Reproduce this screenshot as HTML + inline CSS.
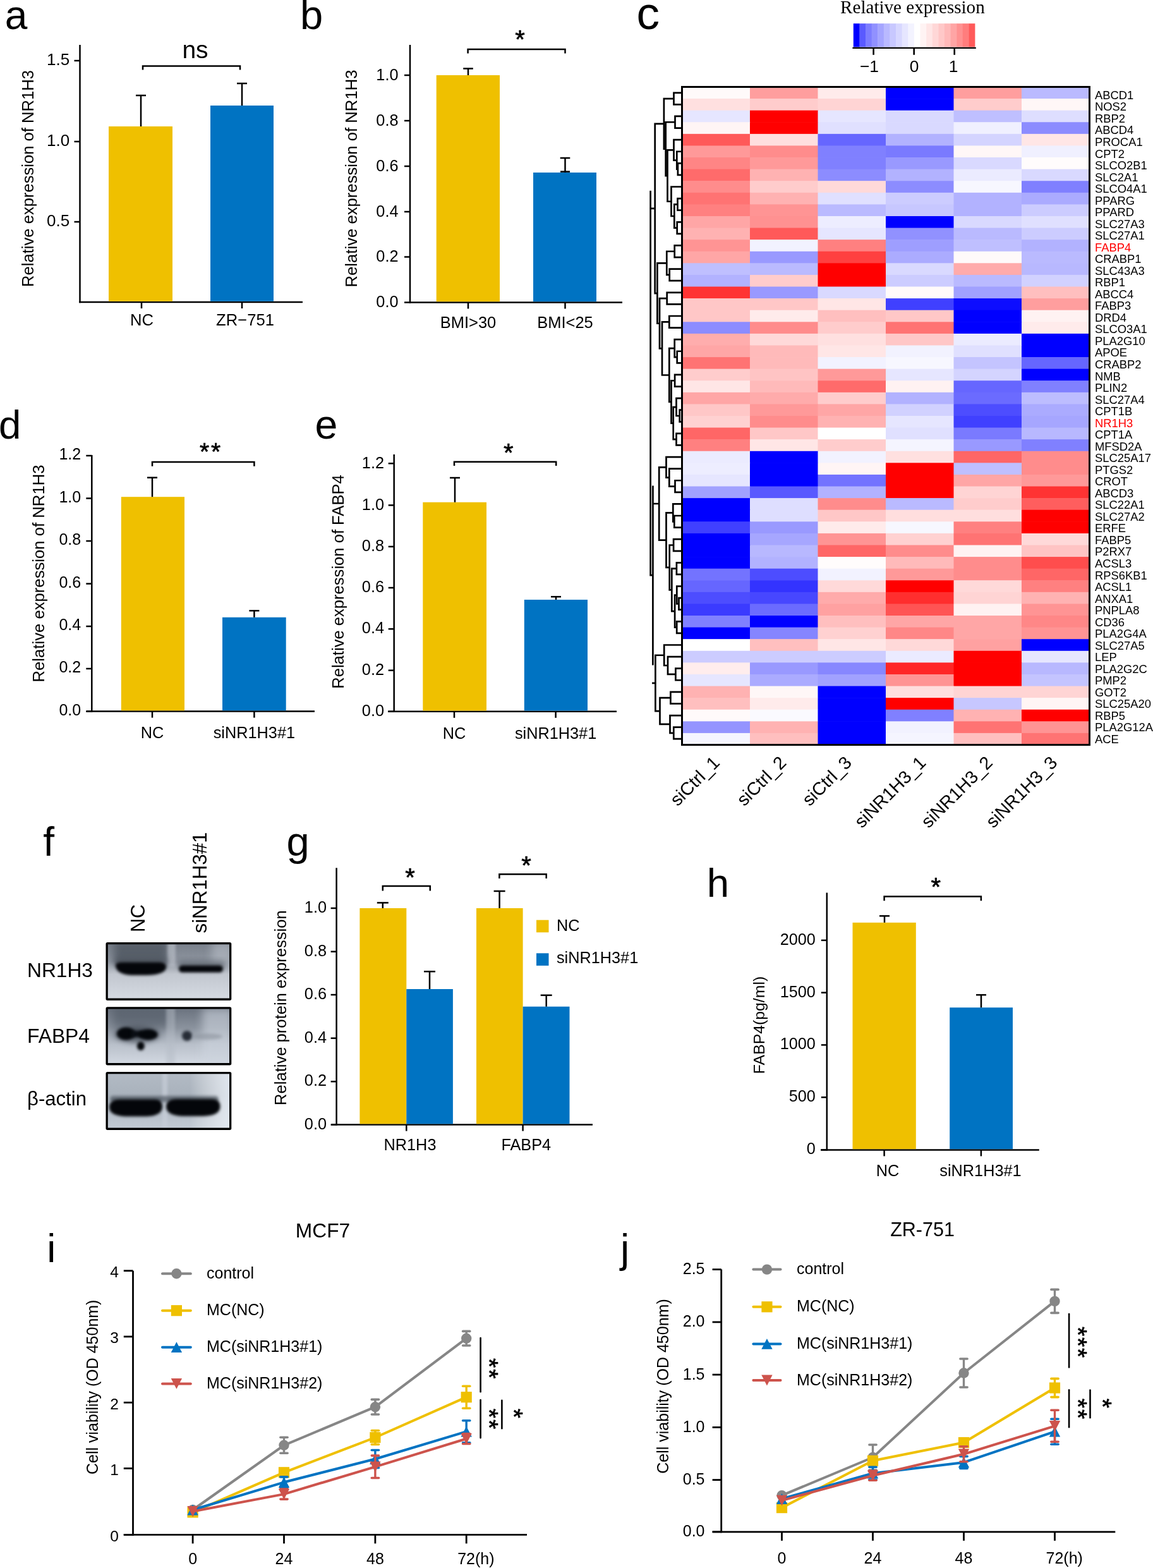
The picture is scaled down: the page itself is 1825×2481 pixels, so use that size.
<!DOCTYPE html>
<html><head><meta charset="utf-8"><title>Figure</title>
<style>html,body{margin:0;padding:0;background:#fff;overflow:hidden;}svg{display:block;}
text{font-family:"Liberation Sans",Arial,Helvetica,sans-serif;}</style></head>
<body><svg width="1825" height="2481" viewBox="0 0 1825 2481">
<rect width="1825" height="2481" fill="#fff"/>
<line x1="126.5" y1="71" x2="126.5" y2="479.25" stroke="#000" stroke-width="2.5" stroke-linecap="butt"/>
<line x1="125.25" y1="478" x2="479" y2="478" stroke="#000" stroke-width="2.5" stroke-linecap="butt"/>
<line x1="117.5" y1="96" x2="126.5" y2="96" stroke="#000" stroke-width="2.5" stroke-linecap="butt"/>
<text x="110.2" y="102.9" font-size="26" text-anchor="end" fill="#000">1.5</text>
<line x1="117.5" y1="224" x2="126.5" y2="224" stroke="#000" stroke-width="2.5" stroke-linecap="butt"/>
<text x="110.2" y="230.9" font-size="26" text-anchor="end" fill="#000">1.0</text>
<line x1="117.5" y1="351" x2="126.5" y2="351" stroke="#000" stroke-width="2.5" stroke-linecap="butt"/>
<text x="110.2" y="357.9" font-size="26" text-anchor="end" fill="#000">0.5</text>
<line x1="224" y1="478" x2="224" y2="488" stroke="#000" stroke-width="2.5" stroke-linecap="butt"/>
<line x1="383" y1="478" x2="383" y2="488" stroke="#000" stroke-width="2.5" stroke-linecap="butt"/>
<rect x="172" y="200" width="101" height="276.75" fill="#EFC000"/>
<rect x="333" y="167" width="100" height="309.75" fill="#0073C2"/>
<line x1="223" y1="151" x2="223" y2="200" stroke="#000" stroke-width="2.5" stroke-linecap="butt"/>
<line x1="215" y1="151" x2="231" y2="151" stroke="#000" stroke-width="2.5" stroke-linecap="butt"/>
<line x1="383" y1="132" x2="383" y2="167" stroke="#000" stroke-width="2.5" stroke-linecap="butt"/>
<line x1="375" y1="132" x2="391" y2="132" stroke="#000" stroke-width="2.5" stroke-linecap="butt"/>
<path d="M226,110.4 V104.4 H380 V110.4" stroke="#000" stroke-width="2.5" fill="none"/>
<text x="309" y="92.3" font-size="39" text-anchor="middle" fill="#000">ns</text>
<text transform="translate(53,282.5) rotate(-90)" font-size="25.6" text-anchor="middle" fill="#000">Relative expression of NR1H3</text>
<text x="224.5" y="514.5" font-size="25.6" text-anchor="middle" fill="#000">NC</text>
<text x="388" y="514.5" font-size="25.6" text-anchor="middle" fill="#000">ZR−751</text>
<line x1="649" y1="71" x2="649" y2="479.75" stroke="#000" stroke-width="2.5" stroke-linecap="butt"/>
<line x1="647.75" y1="478.5" x2="985" y2="478.5" stroke="#000" stroke-width="2.5" stroke-linecap="butt"/>
<line x1="640" y1="478.5" x2="649" y2="478.5" stroke="#000" stroke-width="2.5" stroke-linecap="butt"/>
<text x="630.5" y="486" font-size="25.3" text-anchor="end" fill="#000">0.0</text>
<line x1="640" y1="406.5" x2="649" y2="406.5" stroke="#000" stroke-width="2.5" stroke-linecap="butt"/>
<text x="630.5" y="414" font-size="25.3" text-anchor="end" fill="#000">0.2</text>
<line x1="640" y1="335" x2="649" y2="335" stroke="#000" stroke-width="2.5" stroke-linecap="butt"/>
<text x="630.5" y="342.5" font-size="25.3" text-anchor="end" fill="#000">0.4</text>
<line x1="640" y1="263" x2="649" y2="263" stroke="#000" stroke-width="2.5" stroke-linecap="butt"/>
<text x="630.5" y="270.5" font-size="25.3" text-anchor="end" fill="#000">0.6</text>
<line x1="640" y1="191" x2="649" y2="191" stroke="#000" stroke-width="2.5" stroke-linecap="butt"/>
<text x="630.5" y="198.5" font-size="25.3" text-anchor="end" fill="#000">0.8</text>
<line x1="640" y1="119" x2="649" y2="119" stroke="#000" stroke-width="2.5" stroke-linecap="butt"/>
<text x="630.5" y="126.5" font-size="25.3" text-anchor="end" fill="#000">1.0</text>
<line x1="741" y1="478.5" x2="741" y2="488.5" stroke="#000" stroke-width="2.5" stroke-linecap="butt"/>
<text x="741" y="518.5" font-size="25.5" text-anchor="middle" fill="#000">BMI&gt;30</text>
<line x1="894.5" y1="478.5" x2="894.5" y2="488.5" stroke="#000" stroke-width="2.5" stroke-linecap="butt"/>
<text x="894.5" y="518.5" font-size="25.5" text-anchor="middle" fill="#000">BMI&lt;25</text>
<rect x="690.7" y="119" width="100.3" height="358.25" fill="#EFC000"/>
<rect x="844" y="273" width="100" height="204.25" fill="#0073C2"/>
<line x1="741" y1="108.5" x2="741" y2="119" stroke="#000" stroke-width="2.5" stroke-linecap="butt"/>
<line x1="733.2" y1="108.5" x2="748.8" y2="108.5" stroke="#000" stroke-width="2.5" stroke-linecap="butt"/>
<line x1="894.5" y1="250" x2="894.5" y2="273" stroke="#000" stroke-width="2.5" stroke-linecap="butt"/>
<line x1="886.7" y1="250" x2="902.3" y2="250" stroke="#000" stroke-width="2.5" stroke-linecap="butt"/>
<path d="M740.6,84.5 V78 H894.5 V84.5" stroke="#000" stroke-width="2.5" fill="none"/>
<text transform="translate(823.1,55.3) rotate(0)" x="0" y="20.6" font-size="40" text-anchor="middle" stroke="#000" stroke-width="0.7" stroke-linejoin="round">*</text>
<text transform="translate(565,282.5) rotate(-90)" font-size="25.7" text-anchor="middle" fill="#000">Relative expression of NR1H3</text>
<line x1="887" y1="271.6" x2="902" y2="271.6" stroke="#000" stroke-width="2.5" stroke-linecap="butt"/>
<line x1="145.3" y1="720" x2="145.3" y2="1126.85" stroke="#000" stroke-width="2.5" stroke-linecap="butt"/>
<line x1="136.6" y1="1125.6" x2="498" y2="1125.6" stroke="#000" stroke-width="2.5" stroke-linecap="butt"/>
<line x1="136.3" y1="1125.6" x2="145.3" y2="1125.6" stroke="#000" stroke-width="2.5" stroke-linecap="butt"/>
<text x="128.2" y="1131.9" font-size="25" text-anchor="end" fill="#000">0.0</text>
<line x1="136.3" y1="1058" x2="145.3" y2="1058" stroke="#000" stroke-width="2.5" stroke-linecap="butt"/>
<text x="128.2" y="1064.3" font-size="25" text-anchor="end" fill="#000">0.2</text>
<line x1="136.3" y1="991" x2="145.3" y2="991" stroke="#000" stroke-width="2.5" stroke-linecap="butt"/>
<text x="128.2" y="997.3" font-size="25" text-anchor="end" fill="#000">0.4</text>
<line x1="136.3" y1="923.6" x2="145.3" y2="923.6" stroke="#000" stroke-width="2.5" stroke-linecap="butt"/>
<text x="128.2" y="929.9" font-size="25" text-anchor="end" fill="#000">0.6</text>
<line x1="136.3" y1="856" x2="145.3" y2="856" stroke="#000" stroke-width="2.5" stroke-linecap="butt"/>
<text x="128.2" y="862.3" font-size="25" text-anchor="end" fill="#000">0.8</text>
<line x1="136.3" y1="788.5" x2="145.3" y2="788.5" stroke="#000" stroke-width="2.5" stroke-linecap="butt"/>
<text x="128.2" y="794.8" font-size="25" text-anchor="end" fill="#000">1.0</text>
<line x1="136.3" y1="721" x2="145.3" y2="721" stroke="#000" stroke-width="2.5" stroke-linecap="butt"/>
<text x="128.2" y="727.3" font-size="25" text-anchor="end" fill="#000">1.2</text>
<line x1="241" y1="1125.6" x2="241" y2="1135.6" stroke="#000" stroke-width="2.5" stroke-linecap="butt"/>
<text x="241" y="1167.7" font-size="25.3" text-anchor="middle" fill="#000">NC</text>
<line x1="402.4" y1="1125.6" x2="402.4" y2="1135.6" stroke="#000" stroke-width="2.5" stroke-linecap="butt"/>
<text x="402.4" y="1167.7" font-size="25.3" text-anchor="middle" fill="#000">siNR1H3#1</text>
<rect x="191.8" y="786.2" width="100.2" height="338.15" fill="#EFC000"/>
<rect x="352" y="976.8" width="100.7" height="147.55" fill="#0073C2"/>
<line x1="241" y1="755.7" x2="241" y2="786.2" stroke="#000" stroke-width="2.5" stroke-linecap="butt"/>
<line x1="233" y1="755.7" x2="249" y2="755.7" stroke="#000" stroke-width="2.5" stroke-linecap="butt"/>
<line x1="402.4" y1="966.3" x2="402.4" y2="976.8" stroke="#000" stroke-width="2.5" stroke-linecap="butt"/>
<line x1="394.4" y1="966.3" x2="410.4" y2="966.3" stroke="#000" stroke-width="2.5" stroke-linecap="butt"/>
<path d="M241,737.7 V731 H402.4 V737.7" stroke="#000" stroke-width="2.5" fill="none"/>
<text transform="translate(323.5,708.4) rotate(0)" x="0" y="20.09" font-size="39" text-anchor="middle" stroke="#000" stroke-width="0.7" stroke-linejoin="round">*</text>
<text transform="translate(341.5,708.4) rotate(0)" x="0" y="20.09" font-size="39" text-anchor="middle" stroke="#000" stroke-width="0.7" stroke-linejoin="round">*</text>
<text transform="translate(70,907.5) rotate(-90)" font-size="25.7" text-anchor="middle" fill="#000">Relative expression of NR1H3</text>
<line x1="623.7" y1="719" x2="623.7" y2="1127.05" stroke="#000" stroke-width="2.5" stroke-linecap="butt"/>
<line x1="614" y1="1125.8" x2="976" y2="1125.8" stroke="#000" stroke-width="2.5" stroke-linecap="butt"/>
<line x1="614.7" y1="1125.8" x2="623.7" y2="1125.8" stroke="#000" stroke-width="2.5" stroke-linecap="butt"/>
<text x="608" y="1133" font-size="25.3" text-anchor="end" fill="#000">0.0</text>
<line x1="614.7" y1="1060.7" x2="623.7" y2="1060.7" stroke="#000" stroke-width="2.5" stroke-linecap="butt"/>
<text x="608" y="1067.9" font-size="25.3" text-anchor="end" fill="#000">0.2</text>
<line x1="614.7" y1="995.2" x2="623.7" y2="995.2" stroke="#000" stroke-width="2.5" stroke-linecap="butt"/>
<text x="608" y="1002.4" font-size="25.3" text-anchor="end" fill="#000">0.4</text>
<line x1="614.7" y1="930" x2="623.7" y2="930" stroke="#000" stroke-width="2.5" stroke-linecap="butt"/>
<text x="608" y="937.2" font-size="25.3" text-anchor="end" fill="#000">0.6</text>
<line x1="614.7" y1="864.9" x2="623.7" y2="864.9" stroke="#000" stroke-width="2.5" stroke-linecap="butt"/>
<text x="608" y="872.1" font-size="25.3" text-anchor="end" fill="#000">0.8</text>
<line x1="614.7" y1="799.4" x2="623.7" y2="799.4" stroke="#000" stroke-width="2.5" stroke-linecap="butt"/>
<text x="608" y="806.6" font-size="25.3" text-anchor="end" fill="#000">1.0</text>
<line x1="614.7" y1="733.3" x2="623.7" y2="733.3" stroke="#000" stroke-width="2.5" stroke-linecap="butt"/>
<text x="608" y="740.5" font-size="25.3" text-anchor="end" fill="#000">1.2</text>
<line x1="719" y1="1125.8" x2="719" y2="1135.8" stroke="#000" stroke-width="2.5" stroke-linecap="butt"/>
<text x="719" y="1168.6" font-size="25.3" text-anchor="middle" fill="#000">NC</text>
<line x1="879.6" y1="1125.8" x2="879.6" y2="1135.8" stroke="#000" stroke-width="2.5" stroke-linecap="butt"/>
<text x="879.6" y="1168.6" font-size="25.3" text-anchor="middle" fill="#000">siNR1H3#1</text>
<rect x="669.3" y="794.7" width="100.7" height="329.85" fill="#EFC000"/>
<rect x="829.8" y="948.9" width="100.2" height="175.65" fill="#0073C2"/>
<line x1="720" y1="756" x2="720" y2="794.7" stroke="#000" stroke-width="2.5" stroke-linecap="butt"/>
<line x1="712" y1="756" x2="728" y2="756" stroke="#000" stroke-width="2.5" stroke-linecap="butt"/>
<line x1="880" y1="944.2" x2="880" y2="948.9" stroke="#000" stroke-width="2.5" stroke-linecap="butt"/>
<line x1="872" y1="944.2" x2="888" y2="944.2" stroke="#000" stroke-width="2.5" stroke-linecap="butt"/>
<path d="M719,737 V730.8 H880.2 V737" stroke="#000" stroke-width="2.5" fill="none"/>
<text transform="translate(804.7,709.3) rotate(0)" x="0" y="20.6" font-size="40" text-anchor="middle" stroke="#000" stroke-width="0.7" stroke-linejoin="round">*</text>
<text transform="translate(544,920.5) rotate(-90)" font-size="25.6" text-anchor="middle" fill="#000">Relative expression of FABP4</text>
<line x1="532.6" y1="1373.2" x2="532.6" y2="1780.85" stroke="#000" stroke-width="2.5" stroke-linecap="butt"/>
<line x1="524.3" y1="1779.6" x2="938" y2="1779.6" stroke="#000" stroke-width="2.5" stroke-linecap="butt"/>
<line x1="523.6" y1="1779.6" x2="532.6" y2="1779.6" stroke="#000" stroke-width="2.5" stroke-linecap="butt"/>
<text x="517" y="1786.6" font-size="25.3" text-anchor="end" fill="#000">0.0</text>
<line x1="523.6" y1="1711.3" x2="532.6" y2="1711.3" stroke="#000" stroke-width="2.5" stroke-linecap="butt"/>
<text x="517" y="1718.3" font-size="25.3" text-anchor="end" fill="#000">0.2</text>
<line x1="523.6" y1="1642.7" x2="532.6" y2="1642.7" stroke="#000" stroke-width="2.5" stroke-linecap="butt"/>
<text x="517" y="1649.7" font-size="25.3" text-anchor="end" fill="#000">0.4</text>
<line x1="523.6" y1="1574" x2="532.6" y2="1574" stroke="#000" stroke-width="2.5" stroke-linecap="butt"/>
<text x="517" y="1581" font-size="25.3" text-anchor="end" fill="#000">0.6</text>
<line x1="523.6" y1="1505.7" x2="532.6" y2="1505.7" stroke="#000" stroke-width="2.5" stroke-linecap="butt"/>
<text x="517" y="1512.7" font-size="25.3" text-anchor="end" fill="#000">0.8</text>
<line x1="523.6" y1="1437" x2="532.6" y2="1437" stroke="#000" stroke-width="2.5" stroke-linecap="butt"/>
<text x="517" y="1444" font-size="25.3" text-anchor="end" fill="#000">1.0</text>
<line x1="643.3" y1="1779.6" x2="643.3" y2="1789.6" stroke="#000" stroke-width="2.5" stroke-linecap="butt"/>
<line x1="827.6" y1="1779.6" x2="827.6" y2="1789.6" stroke="#000" stroke-width="2.5" stroke-linecap="butt"/>
<rect x="569.4" y="1437" width="73.9" height="341.35" fill="#EFC000"/>
<rect x="643.3" y="1565" width="73.6" height="213.35" fill="#0073C2"/>
<rect x="754" y="1437" width="73.6" height="341.35" fill="#EFC000"/>
<rect x="827.6" y="1592.7" width="73.9" height="185.65" fill="#0073C2"/>
<line x1="605.8" y1="1428.4" x2="605.8" y2="1437" stroke="#000" stroke-width="2.5" stroke-linecap="butt"/>
<line x1="596.8" y1="1428.4" x2="614.8" y2="1428.4" stroke="#000" stroke-width="2.5" stroke-linecap="butt"/>
<line x1="680" y1="1537.2" x2="680" y2="1565" stroke="#000" stroke-width="2.5" stroke-linecap="butt"/>
<line x1="671" y1="1537.2" x2="689" y2="1537.2" stroke="#000" stroke-width="2.5" stroke-linecap="butt"/>
<line x1="790.6" y1="1410" x2="790.6" y2="1437" stroke="#000" stroke-width="2.5" stroke-linecap="butt"/>
<line x1="781.6" y1="1410" x2="799.6" y2="1410" stroke="#000" stroke-width="2.5" stroke-linecap="butt"/>
<line x1="864.7" y1="1574.7" x2="864.7" y2="1592.7" stroke="#000" stroke-width="2.5" stroke-linecap="butt"/>
<line x1="855.7" y1="1574.7" x2="873.7" y2="1574.7" stroke="#000" stroke-width="2.5" stroke-linecap="butt"/>
<path d="M605.8,1409.6 V1402 H680.8 V1409.6" stroke="#000" stroke-width="2.5" fill="none"/>
<path d="M790.4,1390 V1383.3 H864.7 V1390" stroke="#000" stroke-width="2.5" fill="none"/>
<text transform="translate(649,1381.1) rotate(0)" x="0" y="20.6" font-size="40" text-anchor="middle" stroke="#000" stroke-width="0.7" stroke-linejoin="round">*</text>
<text transform="translate(833,1362.5) rotate(0)" x="0" y="20.6" font-size="40" text-anchor="middle" stroke="#000" stroke-width="0.7" stroke-linejoin="round">*</text>
<text transform="translate(453,1594.6) rotate(-90)" font-size="25.6" text-anchor="middle" fill="#000">Relative protein expression</text>
<text x="649" y="1819.8" font-size="25.3" text-anchor="middle" fill="#000">NR1H3</text>
<text x="832.8" y="1819.8" font-size="25.3" text-anchor="middle" fill="#000">FABP4</text>
<rect x="849" y="1455.7" width="19.5" height="19.6" fill="#EFC000"/>
<rect x="849" y="1508.3" width="19.5" height="19.6" fill="#0073C2"/>
<text x="880.9" y="1472.6" font-size="25.3" text-anchor="start" fill="#000">NC</text>
<text x="880.9" y="1524.4" font-size="25.3" text-anchor="start" fill="#000">siNR1H3#1</text>
<line x1="1308.8" y1="1412.6" x2="1308.8" y2="1820.65" stroke="#000" stroke-width="2.5" stroke-linecap="butt"/>
<line x1="1299" y1="1819.4" x2="1644.8" y2="1819.4" stroke="#000" stroke-width="2.5" stroke-linecap="butt"/>
<line x1="1299.8" y1="1819.4" x2="1308.8" y2="1819.4" stroke="#000" stroke-width="2.5" stroke-linecap="butt"/>
<text x="1290.7" y="1826.4" font-size="25.2" text-anchor="end" fill="#000">0</text>
<line x1="1299.8" y1="1736.2" x2="1308.8" y2="1736.2" stroke="#000" stroke-width="2.5" stroke-linecap="butt"/>
<text x="1290.7" y="1743.2" font-size="25.2" text-anchor="end" fill="#000">500</text>
<line x1="1299.8" y1="1653.4" x2="1308.8" y2="1653.4" stroke="#000" stroke-width="2.5" stroke-linecap="butt"/>
<text x="1290.7" y="1660.4" font-size="25.2" text-anchor="end" fill="#000">1000</text>
<line x1="1299.8" y1="1570.6" x2="1308.8" y2="1570.6" stroke="#000" stroke-width="2.5" stroke-linecap="butt"/>
<text x="1290.7" y="1577.6" font-size="25.2" text-anchor="end" fill="#000">1500</text>
<line x1="1299.8" y1="1487.8" x2="1308.8" y2="1487.8" stroke="#000" stroke-width="2.5" stroke-linecap="butt"/>
<text x="1290.7" y="1494.8" font-size="25.2" text-anchor="end" fill="#000">2000</text>
<line x1="1399.6" y1="1819.4" x2="1399.6" y2="1829.4" stroke="#000" stroke-width="2.5" stroke-linecap="butt"/>
<line x1="1552.9" y1="1819.4" x2="1552.9" y2="1829.4" stroke="#000" stroke-width="2.5" stroke-linecap="butt"/>
<rect x="1349.5" y="1459.8" width="100.3" height="358.35" fill="#EFC000"/>
<rect x="1503.2" y="1594.2" width="99.8" height="223.95" fill="#0073C2"/>
<line x1="1400" y1="1449.3" x2="1400" y2="1459.8" stroke="#000" stroke-width="2.5" stroke-linecap="butt"/>
<line x1="1392" y1="1449.3" x2="1408" y2="1449.3" stroke="#000" stroke-width="2.5" stroke-linecap="butt"/>
<line x1="1553" y1="1574.2" x2="1553" y2="1594.2" stroke="#000" stroke-width="2.5" stroke-linecap="butt"/>
<line x1="1545" y1="1574.2" x2="1561" y2="1574.2" stroke="#000" stroke-width="2.5" stroke-linecap="butt"/>
<path d="M1399.6,1425.3 V1418.4 H1552.9 V1425.3" stroke="#000" stroke-width="2.5" fill="none"/>
<text transform="translate(1481.4,1396.5) rotate(0)" x="0" y="20.6" font-size="40" text-anchor="middle" stroke="#000" stroke-width="0.7" stroke-linejoin="round">*</text>
<text transform="translate(1210,1622) rotate(-90)" font-size="24.8" text-anchor="middle" fill="#000">FABP4(pg/ml)</text>
<text x="1405" y="1861" font-size="25.3" text-anchor="middle" fill="#000">NC</text>
<text x="1552" y="1861" font-size="25.3" text-anchor="middle" fill="#000">siNR1H3#1</text>
<rect x="1079.5" y="137.5" width="108.1" height="19.19" fill="#fffafa"/>
<rect x="1187" y="137.5" width="108.1" height="19.19" fill="#ff9e9e"/>
<rect x="1294.5" y="137.5" width="108.1" height="19.19" fill="#ffebeb"/>
<rect x="1402" y="137.5" width="108.1" height="19.19" fill="#0000ff"/>
<rect x="1509.5" y="137.5" width="108.1" height="19.19" fill="#ff9e9e"/>
<rect x="1617" y="137.5" width="108.1" height="19.19" fill="#babaff"/>
<rect x="1079.5" y="156.09" width="108.1" height="19.19" fill="#ffe0e0"/>
<rect x="1187" y="156.09" width="108.1" height="19.19" fill="#ffcccc"/>
<rect x="1294.5" y="156.09" width="108.1" height="19.19" fill="#ffd4d4"/>
<rect x="1402" y="156.09" width="108.1" height="19.19" fill="#0000ff"/>
<rect x="1509.5" y="156.09" width="108.1" height="19.19" fill="#ffcccc"/>
<rect x="1617" y="156.09" width="108.1" height="19.19" fill="#fff7f7"/>
<rect x="1079.5" y="174.68" width="108.1" height="19.19" fill="#e6e6ff"/>
<rect x="1187" y="174.68" width="108.1" height="19.19" fill="#ff0000"/>
<rect x="1294.5" y="174.68" width="108.1" height="19.19" fill="#e6e6ff"/>
<rect x="1402" y="174.68" width="108.1" height="19.19" fill="#d9d9ff"/>
<rect x="1509.5" y="174.68" width="108.1" height="19.19" fill="#bfbfff"/>
<rect x="1617" y="174.68" width="108.1" height="19.19" fill="#dedeff"/>
<rect x="1079.5" y="193.27" width="108.1" height="19.19" fill="#fff5f5"/>
<rect x="1187" y="193.27" width="108.1" height="19.19" fill="#ff0000"/>
<rect x="1294.5" y="193.27" width="108.1" height="19.19" fill="#e0e0ff"/>
<rect x="1402" y="193.27" width="108.1" height="19.19" fill="#d9d9ff"/>
<rect x="1509.5" y="193.27" width="108.1" height="19.19" fill="#f0f0ff"/>
<rect x="1617" y="193.27" width="108.1" height="19.19" fill="#8c8cff"/>
<rect x="1079.5" y="211.86" width="108.1" height="19.19" fill="#ff5959"/>
<rect x="1187" y="211.86" width="108.1" height="19.19" fill="#ffdede"/>
<rect x="1294.5" y="211.86" width="108.1" height="19.19" fill="#6666ff"/>
<rect x="1402" y="211.86" width="108.1" height="19.19" fill="#b2b2ff"/>
<rect x="1509.5" y="211.86" width="108.1" height="19.19" fill="#d4d4ff"/>
<rect x="1617" y="211.86" width="108.1" height="19.19" fill="#ffe6e6"/>
<rect x="1079.5" y="230.45" width="108.1" height="19.19" fill="#ff9999"/>
<rect x="1187" y="230.45" width="108.1" height="19.19" fill="#ff8c8c"/>
<rect x="1294.5" y="230.45" width="108.1" height="19.19" fill="#8080ff"/>
<rect x="1402" y="230.45" width="108.1" height="19.19" fill="#7a7aff"/>
<rect x="1509.5" y="230.45" width="108.1" height="19.19" fill="#fff7f7"/>
<rect x="1617" y="230.45" width="108.1" height="19.19" fill="#f0f0ff"/>
<rect x="1079.5" y="249.04" width="108.1" height="19.19" fill="#ff8585"/>
<rect x="1187" y="249.04" width="108.1" height="19.19" fill="#ff9999"/>
<rect x="1294.5" y="249.04" width="108.1" height="19.19" fill="#8080ff"/>
<rect x="1402" y="249.04" width="108.1" height="19.19" fill="#9999ff"/>
<rect x="1509.5" y="249.04" width="108.1" height="19.19" fill="#d9d9ff"/>
<rect x="1617" y="249.04" width="108.1" height="19.19" fill="#fffcfc"/>
<rect x="1079.5" y="267.62" width="108.1" height="19.19" fill="#ff6b6b"/>
<rect x="1187" y="267.62" width="108.1" height="19.19" fill="#ffb2b2"/>
<rect x="1294.5" y="267.62" width="108.1" height="19.19" fill="#8c8cff"/>
<rect x="1402" y="267.62" width="108.1" height="19.19" fill="#b2b2ff"/>
<rect x="1509.5" y="267.62" width="108.1" height="19.19" fill="#ebebff"/>
<rect x="1617" y="267.62" width="108.1" height="19.19" fill="#d9d9ff"/>
<rect x="1079.5" y="286.21" width="108.1" height="19.19" fill="#ff8c8c"/>
<rect x="1187" y="286.21" width="108.1" height="19.19" fill="#ffcccc"/>
<rect x="1294.5" y="286.21" width="108.1" height="19.19" fill="#ffd9d9"/>
<rect x="1402" y="286.21" width="108.1" height="19.19" fill="#8c8cff"/>
<rect x="1509.5" y="286.21" width="108.1" height="19.19" fill="#f7f7ff"/>
<rect x="1617" y="286.21" width="108.1" height="19.19" fill="#8080ff"/>
<rect x="1079.5" y="304.8" width="108.1" height="19.19" fill="#ff7373"/>
<rect x="1187" y="304.8" width="108.1" height="19.19" fill="#ffb2b2"/>
<rect x="1294.5" y="304.8" width="108.1" height="19.19" fill="#e0e0ff"/>
<rect x="1402" y="304.8" width="108.1" height="19.19" fill="#ccccff"/>
<rect x="1509.5" y="304.8" width="108.1" height="19.19" fill="#b2b2ff"/>
<rect x="1617" y="304.8" width="108.1" height="19.19" fill="#ababff"/>
<rect x="1079.5" y="323.39" width="108.1" height="19.19" fill="#ff8080"/>
<rect x="1187" y="323.39" width="108.1" height="19.19" fill="#ff9494"/>
<rect x="1294.5" y="323.39" width="108.1" height="19.19" fill="#babaff"/>
<rect x="1402" y="323.39" width="108.1" height="19.19" fill="#c7c7ff"/>
<rect x="1509.5" y="323.39" width="108.1" height="19.19" fill="#b2b2ff"/>
<rect x="1617" y="323.39" width="108.1" height="19.19" fill="#ccccff"/>
<rect x="1079.5" y="341.98" width="108.1" height="19.19" fill="#ffa6a6"/>
<rect x="1187" y="341.98" width="108.1" height="19.19" fill="#ff9191"/>
<rect x="1294.5" y="341.98" width="108.1" height="19.19" fill="#ededff"/>
<rect x="1402" y="341.98" width="108.1" height="19.19" fill="#0000ff"/>
<rect x="1509.5" y="341.98" width="108.1" height="19.19" fill="#d9d9ff"/>
<rect x="1617" y="341.98" width="108.1" height="19.19" fill="#e0e0ff"/>
<rect x="1079.5" y="360.57" width="108.1" height="19.19" fill="#ffb2b2"/>
<rect x="1187" y="360.57" width="108.1" height="19.19" fill="#ff5959"/>
<rect x="1294.5" y="360.57" width="108.1" height="19.19" fill="#e6e6ff"/>
<rect x="1402" y="360.57" width="108.1" height="19.19" fill="#9191ff"/>
<rect x="1509.5" y="360.57" width="108.1" height="19.19" fill="#babaff"/>
<rect x="1617" y="360.57" width="108.1" height="19.19" fill="#ccccff"/>
<rect x="1079.5" y="379.16" width="108.1" height="19.19" fill="#ff9494"/>
<rect x="1187" y="379.16" width="108.1" height="19.19" fill="#f2f2ff"/>
<rect x="1294.5" y="379.16" width="108.1" height="19.19" fill="#ff8080"/>
<rect x="1402" y="379.16" width="108.1" height="19.19" fill="#9e9eff"/>
<rect x="1509.5" y="379.16" width="108.1" height="19.19" fill="#bfbfff"/>
<rect x="1617" y="379.16" width="108.1" height="19.19" fill="#b2b2ff"/>
<rect x="1079.5" y="397.75" width="108.1" height="19.19" fill="#ffa6a6"/>
<rect x="1187" y="397.75" width="108.1" height="19.19" fill="#9999ff"/>
<rect x="1294.5" y="397.75" width="108.1" height="19.19" fill="#ff4040"/>
<rect x="1402" y="397.75" width="108.1" height="19.19" fill="#ababff"/>
<rect x="1509.5" y="397.75" width="108.1" height="19.19" fill="#fffafa"/>
<rect x="1617" y="397.75" width="108.1" height="19.19" fill="#babaff"/>
<rect x="1079.5" y="416.34" width="108.1" height="19.19" fill="#bfbfff"/>
<rect x="1187" y="416.34" width="108.1" height="19.19" fill="#babaff"/>
<rect x="1294.5" y="416.34" width="108.1" height="19.19" fill="#ff0000"/>
<rect x="1402" y="416.34" width="108.1" height="19.19" fill="#d9d9ff"/>
<rect x="1509.5" y="416.34" width="108.1" height="19.19" fill="#ffabab"/>
<rect x="1617" y="416.34" width="108.1" height="19.19" fill="#b8b8ff"/>
<rect x="1079.5" y="434.93" width="108.1" height="19.19" fill="#b2b2ff"/>
<rect x="1187" y="434.93" width="108.1" height="19.19" fill="#ffcccc"/>
<rect x="1294.5" y="434.93" width="108.1" height="19.19" fill="#ff0000"/>
<rect x="1402" y="434.93" width="108.1" height="19.19" fill="#ccccff"/>
<rect x="1509.5" y="434.93" width="108.1" height="19.19" fill="#babaff"/>
<rect x="1617" y="434.93" width="108.1" height="19.19" fill="#d1d1ff"/>
<rect x="1079.5" y="453.52" width="108.1" height="19.19" fill="#ff3333"/>
<rect x="1187" y="453.52" width="108.1" height="19.19" fill="#9999ff"/>
<rect x="1294.5" y="453.52" width="108.1" height="19.19" fill="#d9d9ff"/>
<rect x="1402" y="453.52" width="108.1" height="19.19" fill="#fffafa"/>
<rect x="1509.5" y="453.52" width="108.1" height="19.19" fill="#a1a1ff"/>
<rect x="1617" y="453.52" width="108.1" height="19.19" fill="#ffbfbf"/>
<rect x="1079.5" y="472.11" width="108.1" height="19.19" fill="#ffc7c7"/>
<rect x="1187" y="472.11" width="108.1" height="19.19" fill="#ffc7c7"/>
<rect x="1294.5" y="472.11" width="108.1" height="19.19" fill="#ffe6e6"/>
<rect x="1402" y="472.11" width="108.1" height="19.19" fill="#4040ff"/>
<rect x="1509.5" y="472.11" width="108.1" height="19.19" fill="#0d0dff"/>
<rect x="1617" y="472.11" width="108.1" height="19.19" fill="#ff9e9e"/>
<rect x="1079.5" y="490.7" width="108.1" height="19.19" fill="#ffc7c7"/>
<rect x="1187" y="490.7" width="108.1" height="19.19" fill="#ffebeb"/>
<rect x="1294.5" y="490.7" width="108.1" height="19.19" fill="#ffbfbf"/>
<rect x="1402" y="490.7" width="108.1" height="19.19" fill="#ffc7c7"/>
<rect x="1509.5" y="490.7" width="108.1" height="19.19" fill="#0000ff"/>
<rect x="1617" y="490.7" width="108.1" height="19.19" fill="#fff2f2"/>
<rect x="1079.5" y="509.29" width="108.1" height="19.19" fill="#8c8cff"/>
<rect x="1187" y="509.29" width="108.1" height="19.19" fill="#ff8c8c"/>
<rect x="1294.5" y="509.29" width="108.1" height="19.19" fill="#ffcccc"/>
<rect x="1402" y="509.29" width="108.1" height="19.19" fill="#ff7373"/>
<rect x="1509.5" y="509.29" width="108.1" height="19.19" fill="#0000ff"/>
<rect x="1617" y="509.29" width="108.1" height="19.19" fill="#ffebeb"/>
<rect x="1079.5" y="527.88" width="108.1" height="19.19" fill="#ffadad"/>
<rect x="1187" y="527.88" width="108.1" height="19.19" fill="#ffd9d9"/>
<rect x="1294.5" y="527.88" width="108.1" height="19.19" fill="#ffe0e0"/>
<rect x="1402" y="527.88" width="108.1" height="19.19" fill="#ffc7c7"/>
<rect x="1509.5" y="527.88" width="108.1" height="19.19" fill="#ebebff"/>
<rect x="1617" y="527.88" width="108.1" height="19.19" fill="#0000ff"/>
<rect x="1079.5" y="546.46" width="108.1" height="19.19" fill="#ffa6a6"/>
<rect x="1187" y="546.46" width="108.1" height="19.19" fill="#ffbaba"/>
<rect x="1294.5" y="546.46" width="108.1" height="19.19" fill="#ffe6e6"/>
<rect x="1402" y="546.46" width="108.1" height="19.19" fill="#f2f2ff"/>
<rect x="1509.5" y="546.46" width="108.1" height="19.19" fill="#e0e0ff"/>
<rect x="1617" y="546.46" width="108.1" height="19.19" fill="#0000ff"/>
<rect x="1079.5" y="565.05" width="108.1" height="19.19" fill="#ff7373"/>
<rect x="1187" y="565.05" width="108.1" height="19.19" fill="#ffbaba"/>
<rect x="1294.5" y="565.05" width="108.1" height="19.19" fill="#f2f2ff"/>
<rect x="1402" y="565.05" width="108.1" height="19.19" fill="#f7f7ff"/>
<rect x="1509.5" y="565.05" width="108.1" height="19.19" fill="#c4c4ff"/>
<rect x="1617" y="565.05" width="108.1" height="19.19" fill="#6666ff"/>
<rect x="1079.5" y="583.64" width="108.1" height="19.19" fill="#ffcccc"/>
<rect x="1187" y="583.64" width="108.1" height="19.19" fill="#ffc4c4"/>
<rect x="1294.5" y="583.64" width="108.1" height="19.19" fill="#ff9999"/>
<rect x="1402" y="583.64" width="108.1" height="19.19" fill="#e6e6ff"/>
<rect x="1509.5" y="583.64" width="108.1" height="19.19" fill="#d4d4ff"/>
<rect x="1617" y="583.64" width="108.1" height="19.19" fill="#0000ff"/>
<rect x="1079.5" y="602.23" width="108.1" height="19.19" fill="#ffe6e6"/>
<rect x="1187" y="602.23" width="108.1" height="19.19" fill="#ffbaba"/>
<rect x="1294.5" y="602.23" width="108.1" height="19.19" fill="#ff6b6b"/>
<rect x="1402" y="602.23" width="108.1" height="19.19" fill="#fff2f2"/>
<rect x="1509.5" y="602.23" width="108.1" height="19.19" fill="#6666ff"/>
<rect x="1617" y="602.23" width="108.1" height="19.19" fill="#8080ff"/>
<rect x="1079.5" y="620.82" width="108.1" height="19.19" fill="#ffa6a6"/>
<rect x="1187" y="620.82" width="108.1" height="19.19" fill="#ffabab"/>
<rect x="1294.5" y="620.82" width="108.1" height="19.19" fill="#ffcccc"/>
<rect x="1402" y="620.82" width="108.1" height="19.19" fill="#b2b2ff"/>
<rect x="1509.5" y="620.82" width="108.1" height="19.19" fill="#6b6bff"/>
<rect x="1617" y="620.82" width="108.1" height="19.19" fill="#bdbdff"/>
<rect x="1079.5" y="639.41" width="108.1" height="19.19" fill="#ffc7c7"/>
<rect x="1187" y="639.41" width="108.1" height="19.19" fill="#ff9999"/>
<rect x="1294.5" y="639.41" width="108.1" height="19.19" fill="#ffa6a6"/>
<rect x="1402" y="639.41" width="108.1" height="19.19" fill="#d1d1ff"/>
<rect x="1509.5" y="639.41" width="108.1" height="19.19" fill="#4d4dff"/>
<rect x="1617" y="639.41" width="108.1" height="19.19" fill="#ababff"/>
<rect x="1079.5" y="658" width="108.1" height="19.19" fill="#ffd1d1"/>
<rect x="1187" y="658" width="108.1" height="19.19" fill="#ff8c8c"/>
<rect x="1294.5" y="658" width="108.1" height="19.19" fill="#ffb2b2"/>
<rect x="1402" y="658" width="108.1" height="19.19" fill="#e6e6ff"/>
<rect x="1509.5" y="658" width="108.1" height="19.19" fill="#4040ff"/>
<rect x="1617" y="658" width="108.1" height="19.19" fill="#a6a6ff"/>
<rect x="1079.5" y="676.59" width="108.1" height="19.19" fill="#ff6666"/>
<rect x="1187" y="676.59" width="108.1" height="19.19" fill="#ffc7c7"/>
<rect x="1294.5" y="676.59" width="108.1" height="19.19" fill="#ffffff"/>
<rect x="1402" y="676.59" width="108.1" height="19.19" fill="#e0e0ff"/>
<rect x="1509.5" y="676.59" width="108.1" height="19.19" fill="#7a7aff"/>
<rect x="1617" y="676.59" width="108.1" height="19.19" fill="#b8b8ff"/>
<rect x="1079.5" y="695.18" width="108.1" height="19.19" fill="#ff8080"/>
<rect x="1187" y="695.18" width="108.1" height="19.19" fill="#ffe6e6"/>
<rect x="1294.5" y="695.18" width="108.1" height="19.19" fill="#ffcccc"/>
<rect x="1402" y="695.18" width="108.1" height="19.19" fill="#f5f5ff"/>
<rect x="1509.5" y="695.18" width="108.1" height="19.19" fill="#9999ff"/>
<rect x="1617" y="695.18" width="108.1" height="19.19" fill="#8080ff"/>
<rect x="1079.5" y="713.77" width="108.1" height="19.19" fill="#ebebff"/>
<rect x="1187" y="713.77" width="108.1" height="19.19" fill="#0000ff"/>
<rect x="1294.5" y="713.77" width="108.1" height="19.19" fill="#f2f2ff"/>
<rect x="1402" y="713.77" width="108.1" height="19.19" fill="#ffe0e0"/>
<rect x="1509.5" y="713.77" width="108.1" height="19.19" fill="#ff6666"/>
<rect x="1617" y="713.77" width="108.1" height="19.19" fill="#ff8c8c"/>
<rect x="1079.5" y="732.36" width="108.1" height="19.19" fill="#ededff"/>
<rect x="1187" y="732.36" width="108.1" height="19.19" fill="#0000ff"/>
<rect x="1294.5" y="732.36" width="108.1" height="19.19" fill="#fff5f5"/>
<rect x="1402" y="732.36" width="108.1" height="19.19" fill="#ff0000"/>
<rect x="1509.5" y="732.36" width="108.1" height="19.19" fill="#bfbfff"/>
<rect x="1617" y="732.36" width="108.1" height="19.19" fill="#ff8c8c"/>
<rect x="1079.5" y="750.95" width="108.1" height="19.19" fill="#e6e6ff"/>
<rect x="1187" y="750.95" width="108.1" height="19.19" fill="#0000ff"/>
<rect x="1294.5" y="750.95" width="108.1" height="19.19" fill="#7373ff"/>
<rect x="1402" y="750.95" width="108.1" height="19.19" fill="#ff0000"/>
<rect x="1509.5" y="750.95" width="108.1" height="19.19" fill="#ffa6a6"/>
<rect x="1617" y="750.95" width="108.1" height="19.19" fill="#ff9999"/>
<rect x="1079.5" y="769.54" width="108.1" height="19.19" fill="#a1a1ff"/>
<rect x="1187" y="769.54" width="108.1" height="19.19" fill="#5959ff"/>
<rect x="1294.5" y="769.54" width="108.1" height="19.19" fill="#b2b2ff"/>
<rect x="1402" y="769.54" width="108.1" height="19.19" fill="#ff0000"/>
<rect x="1509.5" y="769.54" width="108.1" height="19.19" fill="#ffd4d4"/>
<rect x="1617" y="769.54" width="108.1" height="19.19" fill="#ff3333"/>
<rect x="1079.5" y="788.12" width="108.1" height="19.19" fill="#0000ff"/>
<rect x="1187" y="788.12" width="108.1" height="19.19" fill="#dedeff"/>
<rect x="1294.5" y="788.12" width="108.1" height="19.19" fill="#ff8c8c"/>
<rect x="1402" y="788.12" width="108.1" height="19.19" fill="#babaff"/>
<rect x="1509.5" y="788.12" width="108.1" height="19.19" fill="#ffcccc"/>
<rect x="1617" y="788.12" width="108.1" height="19.19" fill="#ff5e5e"/>
<rect x="1079.5" y="806.71" width="108.1" height="19.19" fill="#0000ff"/>
<rect x="1187" y="806.71" width="108.1" height="19.19" fill="#dedeff"/>
<rect x="1294.5" y="806.71" width="108.1" height="19.19" fill="#ffc7c7"/>
<rect x="1402" y="806.71" width="108.1" height="19.19" fill="#ffdede"/>
<rect x="1509.5" y="806.71" width="108.1" height="19.19" fill="#ffdede"/>
<rect x="1617" y="806.71" width="108.1" height="19.19" fill="#ff0000"/>
<rect x="1079.5" y="825.3" width="108.1" height="19.19" fill="#4040ff"/>
<rect x="1187" y="825.3" width="108.1" height="19.19" fill="#9999ff"/>
<rect x="1294.5" y="825.3" width="108.1" height="19.19" fill="#ffebeb"/>
<rect x="1402" y="825.3" width="108.1" height="19.19" fill="#f7f7ff"/>
<rect x="1509.5" y="825.3" width="108.1" height="19.19" fill="#ff8080"/>
<rect x="1617" y="825.3" width="108.1" height="19.19" fill="#ff0000"/>
<rect x="1079.5" y="843.89" width="108.1" height="19.19" fill="#0000ff"/>
<rect x="1187" y="843.89" width="108.1" height="19.19" fill="#a6a6ff"/>
<rect x="1294.5" y="843.89" width="108.1" height="19.19" fill="#ff9494"/>
<rect x="1402" y="843.89" width="108.1" height="19.19" fill="#ffd1d1"/>
<rect x="1509.5" y="843.89" width="108.1" height="19.19" fill="#ff7373"/>
<rect x="1617" y="843.89" width="108.1" height="19.19" fill="#ffd9d9"/>
<rect x="1079.5" y="862.48" width="108.1" height="19.19" fill="#0000ff"/>
<rect x="1187" y="862.48" width="108.1" height="19.19" fill="#b8b8ff"/>
<rect x="1294.5" y="862.48" width="108.1" height="19.19" fill="#ff6666"/>
<rect x="1402" y="862.48" width="108.1" height="19.19" fill="#ff8c8c"/>
<rect x="1509.5" y="862.48" width="108.1" height="19.19" fill="#fff2f2"/>
<rect x="1617" y="862.48" width="108.1" height="19.19" fill="#ffc4c4"/>
<rect x="1079.5" y="881.07" width="108.1" height="19.19" fill="#0000ff"/>
<rect x="1187" y="881.07" width="108.1" height="19.19" fill="#b2b2ff"/>
<rect x="1294.5" y="881.07" width="108.1" height="19.19" fill="#fffcfc"/>
<rect x="1402" y="881.07" width="108.1" height="19.19" fill="#ffbaba"/>
<rect x="1509.5" y="881.07" width="108.1" height="19.19" fill="#ff8c8c"/>
<rect x="1617" y="881.07" width="108.1" height="19.19" fill="#ff4d4d"/>
<rect x="1079.5" y="899.66" width="108.1" height="19.19" fill="#7373ff"/>
<rect x="1187" y="899.66" width="108.1" height="19.19" fill="#4d4dff"/>
<rect x="1294.5" y="899.66" width="108.1" height="19.19" fill="#f2f2ff"/>
<rect x="1402" y="899.66" width="108.1" height="19.19" fill="#ff9999"/>
<rect x="1509.5" y="899.66" width="108.1" height="19.19" fill="#ff8c8c"/>
<rect x="1617" y="899.66" width="108.1" height="19.19" fill="#ff6666"/>
<rect x="1079.5" y="918.25" width="108.1" height="19.19" fill="#6666ff"/>
<rect x="1187" y="918.25" width="108.1" height="19.19" fill="#3333ff"/>
<rect x="1294.5" y="918.25" width="108.1" height="19.19" fill="#ffd9d9"/>
<rect x="1402" y="918.25" width="108.1" height="19.19" fill="#ff0000"/>
<rect x="1509.5" y="918.25" width="108.1" height="19.19" fill="#ffd9d9"/>
<rect x="1617" y="918.25" width="108.1" height="19.19" fill="#ff8080"/>
<rect x="1079.5" y="936.84" width="108.1" height="19.19" fill="#4d4dff"/>
<rect x="1187" y="936.84" width="108.1" height="19.19" fill="#4747ff"/>
<rect x="1294.5" y="936.84" width="108.1" height="19.19" fill="#ffabab"/>
<rect x="1402" y="936.84" width="108.1" height="19.19" fill="#ff2e2e"/>
<rect x="1509.5" y="936.84" width="108.1" height="19.19" fill="#ffd4d4"/>
<rect x="1617" y="936.84" width="108.1" height="19.19" fill="#ffb2b2"/>
<rect x="1079.5" y="955.43" width="108.1" height="19.19" fill="#3b3bff"/>
<rect x="1187" y="955.43" width="108.1" height="19.19" fill="#6b6bff"/>
<rect x="1294.5" y="955.43" width="108.1" height="19.19" fill="#ffa1a1"/>
<rect x="1402" y="955.43" width="108.1" height="19.19" fill="#ff5454"/>
<rect x="1509.5" y="955.43" width="108.1" height="19.19" fill="#fff2f2"/>
<rect x="1617" y="955.43" width="108.1" height="19.19" fill="#ff9494"/>
<rect x="1079.5" y="974.02" width="108.1" height="19.19" fill="#8080ff"/>
<rect x="1187" y="974.02" width="108.1" height="19.19" fill="#0000ff"/>
<rect x="1294.5" y="974.02" width="108.1" height="19.19" fill="#ffbfbf"/>
<rect x="1402" y="974.02" width="108.1" height="19.19" fill="#ffa6a6"/>
<rect x="1509.5" y="974.02" width="108.1" height="19.19" fill="#ffa6a6"/>
<rect x="1617" y="974.02" width="108.1" height="19.19" fill="#ff8787"/>
<rect x="1079.5" y="992.61" width="108.1" height="19.19" fill="#0000ff"/>
<rect x="1187" y="992.61" width="108.1" height="19.19" fill="#8585ff"/>
<rect x="1294.5" y="992.61" width="108.1" height="19.19" fill="#ffd1d1"/>
<rect x="1402" y="992.61" width="108.1" height="19.19" fill="#ff8787"/>
<rect x="1509.5" y="992.61" width="108.1" height="19.19" fill="#ffa6a6"/>
<rect x="1617" y="992.61" width="108.1" height="19.19" fill="#ff9494"/>
<rect x="1079.5" y="1011.2" width="108.1" height="19.19" fill="#ffffff"/>
<rect x="1187" y="1011.2" width="108.1" height="19.19" fill="#ffbfbf"/>
<rect x="1294.5" y="1011.2" width="108.1" height="19.19" fill="#ffe6e6"/>
<rect x="1402" y="1011.2" width="108.1" height="19.19" fill="#ffd9d9"/>
<rect x="1509.5" y="1011.2" width="108.1" height="19.19" fill="#ffa1a1"/>
<rect x="1617" y="1011.2" width="108.1" height="19.19" fill="#0000ff"/>
<rect x="1079.5" y="1029.79" width="108.1" height="19.19" fill="#ccccff"/>
<rect x="1187" y="1029.79" width="108.1" height="19.19" fill="#ccccff"/>
<rect x="1294.5" y="1029.79" width="108.1" height="19.19" fill="#ccccff"/>
<rect x="1402" y="1029.79" width="108.1" height="19.19" fill="#ebebff"/>
<rect x="1509.5" y="1029.79" width="108.1" height="19.19" fill="#ff0000"/>
<rect x="1617" y="1029.79" width="108.1" height="19.19" fill="#e6e6ff"/>
<rect x="1079.5" y="1048.38" width="108.1" height="19.19" fill="#ffeded"/>
<rect x="1187" y="1048.38" width="108.1" height="19.19" fill="#9999ff"/>
<rect x="1294.5" y="1048.38" width="108.1" height="19.19" fill="#8787ff"/>
<rect x="1402" y="1048.38" width="108.1" height="19.19" fill="#ff2626"/>
<rect x="1509.5" y="1048.38" width="108.1" height="19.19" fill="#ff0000"/>
<rect x="1617" y="1048.38" width="108.1" height="19.19" fill="#b8b8ff"/>
<rect x="1079.5" y="1066.96" width="108.1" height="19.19" fill="#e6e6ff"/>
<rect x="1187" y="1066.96" width="108.1" height="19.19" fill="#ababff"/>
<rect x="1294.5" y="1066.96" width="108.1" height="19.19" fill="#a1a1ff"/>
<rect x="1402" y="1066.96" width="108.1" height="19.19" fill="#ff9494"/>
<rect x="1509.5" y="1066.96" width="108.1" height="19.19" fill="#ff0000"/>
<rect x="1617" y="1066.96" width="108.1" height="19.19" fill="#c4c4ff"/>
<rect x="1079.5" y="1085.55" width="108.1" height="19.19" fill="#ffb2b2"/>
<rect x="1187" y="1085.55" width="108.1" height="19.19" fill="#fff7f7"/>
<rect x="1294.5" y="1085.55" width="108.1" height="19.19" fill="#0000ff"/>
<rect x="1402" y="1085.55" width="108.1" height="19.19" fill="#ffdede"/>
<rect x="1509.5" y="1085.55" width="108.1" height="19.19" fill="#ffd4d4"/>
<rect x="1617" y="1085.55" width="108.1" height="19.19" fill="#ffd4d4"/>
<rect x="1079.5" y="1104.14" width="108.1" height="19.19" fill="#ffbfbf"/>
<rect x="1187" y="1104.14" width="108.1" height="19.19" fill="#ffebeb"/>
<rect x="1294.5" y="1104.14" width="108.1" height="19.19" fill="#0000ff"/>
<rect x="1402" y="1104.14" width="108.1" height="19.19" fill="#ff0000"/>
<rect x="1509.5" y="1104.14" width="108.1" height="19.19" fill="#c7c7ff"/>
<rect x="1617" y="1104.14" width="108.1" height="19.19" fill="#fff5f5"/>
<rect x="1079.5" y="1122.73" width="108.1" height="19.19" fill="#fffafa"/>
<rect x="1187" y="1122.73" width="108.1" height="19.19" fill="#fafaff"/>
<rect x="1294.5" y="1122.73" width="108.1" height="19.19" fill="#0000ff"/>
<rect x="1402" y="1122.73" width="108.1" height="19.19" fill="#8080ff"/>
<rect x="1509.5" y="1122.73" width="108.1" height="19.19" fill="#ffb2b2"/>
<rect x="1617" y="1122.73" width="108.1" height="19.19" fill="#ff0000"/>
<rect x="1079.5" y="1141.32" width="108.1" height="19.19" fill="#9494ff"/>
<rect x="1187" y="1141.32" width="108.1" height="19.19" fill="#ffb2b2"/>
<rect x="1294.5" y="1141.32" width="108.1" height="19.19" fill="#0000ff"/>
<rect x="1402" y="1141.32" width="108.1" height="19.19" fill="#f2f2ff"/>
<rect x="1509.5" y="1141.32" width="108.1" height="19.19" fill="#ff7373"/>
<rect x="1617" y="1141.32" width="108.1" height="19.19" fill="#ff9494"/>
<rect x="1079.5" y="1159.91" width="108.1" height="19.19" fill="#f5f5ff"/>
<rect x="1187" y="1159.91" width="108.1" height="19.19" fill="#ffbfbf"/>
<rect x="1294.5" y="1159.91" width="108.1" height="19.19" fill="#0000ff"/>
<rect x="1402" y="1159.91" width="108.1" height="19.19" fill="#f5f5ff"/>
<rect x="1509.5" y="1159.91" width="108.1" height="19.19" fill="#ffbfbf"/>
<rect x="1617" y="1159.91" width="108.1" height="19.19" fill="#ff7373"/>
<rect x="1079.5" y="137.5" width="645" height="1041" fill="none" stroke="#000" stroke-width="3"/>
<text x="1733" y="156.9" font-size="18.4" text-anchor="start" fill="#000">ABCD1</text>
<text x="1733" y="175.43" font-size="18.4" text-anchor="start" fill="#000">NOS2</text>
<text x="1733" y="193.95" font-size="18.4" text-anchor="start" fill="#000">RBP2</text>
<text x="1733" y="212.48" font-size="18.4" text-anchor="start" fill="#000">ABCD4</text>
<text x="1733" y="231.01" font-size="18.4" text-anchor="start" fill="#000">PROCA1</text>
<text x="1733" y="249.54" font-size="18.4" text-anchor="start" fill="#000">CPT2</text>
<text x="1733" y="268.06" font-size="18.4" text-anchor="start" fill="#000">SLCO2B1</text>
<text x="1733" y="286.59" font-size="18.4" text-anchor="start" fill="#000">SLC2A1</text>
<text x="1733" y="305.12" font-size="18.4" text-anchor="start" fill="#000">SLCO4A1</text>
<text x="1733" y="323.64" font-size="18.4" text-anchor="start" fill="#000">PPARG</text>
<text x="1733" y="342.17" font-size="18.4" text-anchor="start" fill="#000">PPARD</text>
<text x="1733" y="360.7" font-size="18.4" text-anchor="start" fill="#000">SLC27A3</text>
<text x="1733" y="379.22" font-size="18.4" text-anchor="start" fill="#000">SLC27A1</text>
<text x="1733" y="397.75" font-size="18.4" text-anchor="start" fill="#ff0000">FABP4</text>
<text x="1733" y="416.28" font-size="18.4" text-anchor="start" fill="#000">CRABP1</text>
<text x="1733" y="434.81" font-size="18.4" text-anchor="start" fill="#000">SLC43A3</text>
<text x="1733" y="453.33" font-size="18.4" text-anchor="start" fill="#000">RBP1</text>
<text x="1733" y="471.86" font-size="18.4" text-anchor="start" fill="#000">ABCC4</text>
<text x="1733" y="490.39" font-size="18.4" text-anchor="start" fill="#000">FABP3</text>
<text x="1733" y="508.91" font-size="18.4" text-anchor="start" fill="#000">DRD4</text>
<text x="1733" y="527.44" font-size="18.4" text-anchor="start" fill="#000">SLCO3A1</text>
<text x="1733" y="545.97" font-size="18.4" text-anchor="start" fill="#000">PLA2G10</text>
<text x="1733" y="564.49" font-size="18.4" text-anchor="start" fill="#000">APOE</text>
<text x="1733" y="583.02" font-size="18.4" text-anchor="start" fill="#000">CRABP2</text>
<text x="1733" y="601.55" font-size="18.4" text-anchor="start" fill="#000">NMB</text>
<text x="1733" y="620.08" font-size="18.4" text-anchor="start" fill="#000">PLIN2</text>
<text x="1733" y="638.6" font-size="18.4" text-anchor="start" fill="#000">SLC27A4</text>
<text x="1733" y="657.13" font-size="18.4" text-anchor="start" fill="#000">CPT1B</text>
<text x="1733" y="675.66" font-size="18.4" text-anchor="start" fill="#ff0000">NR1H3</text>
<text x="1733" y="694.18" font-size="18.4" text-anchor="start" fill="#000">CPT1A</text>
<text x="1733" y="712.71" font-size="18.4" text-anchor="start" fill="#000">MFSD2A</text>
<text x="1733" y="731.24" font-size="18.4" text-anchor="start" fill="#000">SLC25A17</text>
<text x="1733" y="749.76" font-size="18.4" text-anchor="start" fill="#000">PTGS2</text>
<text x="1733" y="768.29" font-size="18.4" text-anchor="start" fill="#000">CROT</text>
<text x="1733" y="786.82" font-size="18.4" text-anchor="start" fill="#000">ABCD3</text>
<text x="1733" y="805.35" font-size="18.4" text-anchor="start" fill="#000">SLC22A1</text>
<text x="1733" y="823.87" font-size="18.4" text-anchor="start" fill="#000">SLC27A2</text>
<text x="1733" y="842.4" font-size="18.4" text-anchor="start" fill="#000">ERFE</text>
<text x="1733" y="860.93" font-size="18.4" text-anchor="start" fill="#000">FABP5</text>
<text x="1733" y="879.45" font-size="18.4" text-anchor="start" fill="#000">P2RX7</text>
<text x="1733" y="897.98" font-size="18.4" text-anchor="start" fill="#000">ACSL3</text>
<text x="1733" y="916.51" font-size="18.4" text-anchor="start" fill="#000">RPS6KB1</text>
<text x="1733" y="935.03" font-size="18.4" text-anchor="start" fill="#000">ACSL1</text>
<text x="1733" y="953.56" font-size="18.4" text-anchor="start" fill="#000">ANXA1</text>
<text x="1733" y="972.09" font-size="18.4" text-anchor="start" fill="#000">PNPLA8</text>
<text x="1733" y="990.62" font-size="18.4" text-anchor="start" fill="#000">CD36</text>
<text x="1733" y="1009.14" font-size="18.4" text-anchor="start" fill="#000">PLA2G4A</text>
<text x="1733" y="1027.67" font-size="18.4" text-anchor="start" fill="#000">SLC27A5</text>
<text x="1733" y="1046.2" font-size="18.4" text-anchor="start" fill="#000">LEP</text>
<text x="1733" y="1064.72" font-size="18.4" text-anchor="start" fill="#000">PLA2G2C</text>
<text x="1733" y="1083.25" font-size="18.4" text-anchor="start" fill="#000">PMP2</text>
<text x="1733" y="1101.78" font-size="18.4" text-anchor="start" fill="#000">GOT2</text>
<text x="1733" y="1120.3" font-size="18.4" text-anchor="start" fill="#000">SLC25A20</text>
<text x="1733" y="1138.83" font-size="18.4" text-anchor="start" fill="#000">RBP5</text>
<text x="1733" y="1157.36" font-size="18.4" text-anchor="start" fill="#000">PLA2G12A</text>
<text x="1733" y="1175.88" font-size="18.4" text-anchor="start" fill="#000">ACE</text>
<text transform="translate(1140.75,1208.5) rotate(-45)" font-size="28.5" text-anchor="end" fill="#000">siCtrl_1</text>
<text transform="translate(1246.25,1208.5) rotate(-45)" font-size="28.5" text-anchor="end" fill="#000">siCtrl_2</text>
<text transform="translate(1349.75,1208.5) rotate(-45)" font-size="28.5" text-anchor="end" fill="#000">siCtrl_3</text>
<text transform="translate(1467.25,1208.5) rotate(-45)" font-size="28.5" text-anchor="end" fill="#000">siNR1H3_1</text>
<text transform="translate(1572.75,1208.5) rotate(-45)" font-size="28.5" text-anchor="end" fill="#000">siNR1H3_2</text>
<text transform="translate(1675.25,1208.5) rotate(-45)" font-size="28.5" text-anchor="end" fill="#000">siNR1H3_3</text>
<path d="M1079.5,146.79H1066.5V165.38H1079.5M1079.5,183.97H1068.5V202.56H1079.5M1079.5,258.33H1072.9V276.92H1079.5M1079.5,239.74H1071.3V267.62H1072.9M1079.5,221.15H1066.5V253.68H1071.3M1079.5,314.1H1072.5V332.69H1079.5M1079.5,351.28H1071.7V369.87H1079.5M1072.5,323.39H1067.3V360.57H1071.7M1079.5,295.51H1062.5V341.98H1067.3M1066.5,237.42H1056.5V318.75H1062.5M1068.5,193.27H1053.7V278.08H1056.5M1066.5,156.09H1050.9V235.67H1053.7M1079.5,388.46H1067.7V407.04H1079.5M1079.5,425.63H1059.7V444.22H1079.5M1067.7,397.75H1055.3V434.93H1059.7M1079.5,462.81H1055.7V481.4H1079.5M1079.5,499.99H1059.3V518.58H1079.5M1079.5,555.76H1071.7V574.35H1079.5M1079.5,537.17H1067.7V565.05H1071.7M1079.5,592.94H1068.1V611.53H1079.5M1079.5,648.71H1075.7V667.29H1079.5M1079.5,630.12H1070.5V658H1075.7M1079.5,685.88H1070.5V704.47H1079.5M1070.5,644.06H1065.7V695.18H1070.5M1068.1,602.23H1062.5V669.62H1065.7M1067.7,551.11H1059.3V635.93H1062.5M1059.3,509.29H1048V593.52H1059.3M1055.7,472.11H1044V551.4H1048M1055.3,416.34H1040.4V511.75H1044M1050.9,195.88H1036.7V464.05H1040.4M1079.5,760.24H1068.5V778.83H1079.5M1079.5,741.65H1059.3V769.54H1068.5M1079.5,723.06H1054.5V755.59H1059.3M1079.5,816.01H1067.3V834.6H1079.5M1079.5,797.42H1065.3V825.3H1067.3M1079.5,853.19H1066.1V871.78H1079.5M1079.5,890.37H1070.9V908.96H1079.5M1079.5,946.13H1074.5V964.72H1079.5M1079.5,927.54H1071.3V955.43H1074.5M1079.5,983.31H1071.2V1001.9H1079.5M1071.3,941.49H1068.1V992.61H1071.2M1070.9,899.66H1063.3V967.05H1068.1M1066.1,862.48H1059.7V933.35H1063.3M1065.3,811.36H1054.5V897.92H1059.7M1054.5,739.33H1043.2V854.64H1054.5M1079.5,1057.67H1069.4V1076.26H1079.5M1079.5,1039.08H1057V1066.96H1069.4M1079.5,1020.49H1051.2V1053.02H1057M1079.5,1094.85H1061.4V1113.44H1079.5M1079.5,1150.62H1066.3V1169.21H1079.5M1079.5,1132.03H1060.5V1159.91H1066.3M1061.4,1104.14H1044.5V1145.97H1060.5M1051.2,1036.76H1037.4V1125.06H1044.5M1036.7,329.96H1029.6M1029.6,303.2V910.2H1033.4M1043.2,796.98H1033.4M1033.4,769.8V1051.2M1037.4,1080.91H1033.4" stroke="#000" stroke-width="2.7" fill="none" stroke-linejoin="miter" stroke-linecap="square"/>
<rect x="1350.8" y="37.2" width="10.01" height="37.3" fill="rgb(0,0,255)"/>
<rect x="1360.41" y="37.2" width="10.01" height="37.3" fill="rgb(90,90,255)"/>
<rect x="1370.02" y="37.2" width="10.01" height="37.3" fill="rgb(125,125,255)"/>
<rect x="1379.63" y="37.2" width="10.01" height="37.3" fill="rgb(145,145,255)"/>
<rect x="1389.24" y="37.2" width="10.01" height="37.3" fill="rgb(165,165,255)"/>
<rect x="1398.85" y="37.2" width="10.01" height="37.3" fill="rgb(185,185,255)"/>
<rect x="1408.46" y="37.2" width="10.01" height="37.3" fill="rgb(200,200,255)"/>
<rect x="1418.07" y="37.2" width="10.01" height="37.3" fill="rgb(215,215,255)"/>
<rect x="1427.68" y="37.2" width="10.01" height="37.3" fill="rgb(230,230,255)"/>
<rect x="1437.29" y="37.2" width="10.01" height="37.3" fill="rgb(243,243,255)"/>
<rect x="1446.9" y="37.2" width="10.01" height="37.3" fill="rgb(255,255,255)"/>
<rect x="1456.51" y="37.2" width="10.01" height="37.3" fill="rgb(255,243,243)"/>
<rect x="1466.12" y="37.2" width="10.01" height="37.3" fill="rgb(255,230,230)"/>
<rect x="1475.73" y="37.2" width="10.01" height="37.3" fill="rgb(255,215,215)"/>
<rect x="1485.34" y="37.2" width="10.01" height="37.3" fill="rgb(255,200,200)"/>
<rect x="1494.95" y="37.2" width="10.01" height="37.3" fill="rgb(255,185,185)"/>
<rect x="1504.56" y="37.2" width="10.01" height="37.3" fill="rgb(255,165,165)"/>
<rect x="1514.17" y="37.2" width="10.01" height="37.3" fill="rgb(255,145,145)"/>
<rect x="1523.78" y="37.2" width="10.01" height="37.3" fill="rgb(255,125,125)"/>
<rect x="1533.39" y="37.2" width="10.01" height="37.3" fill="rgb(255,90,90)"/>
<line x1="1349.4" y1="75.9" x2="1544.8" y2="75.9" stroke="#000" stroke-width="2.3" stroke-linecap="butt"/>
<line x1="1382.6" y1="75.9" x2="1382.6" y2="86.8" stroke="#000" stroke-width="2.6" stroke-linecap="butt"/>
<line x1="1446.7" y1="75.9" x2="1446.7" y2="86.8" stroke="#000" stroke-width="2.6" stroke-linecap="butt"/>
<line x1="1510.7" y1="75.9" x2="1510.7" y2="86.8" stroke="#000" stroke-width="2.6" stroke-linecap="butt"/>
<text x="1376" y="114.4" font-size="26.4" text-anchor="middle" fill="#000">−1</text>
<text x="1447" y="114.4" font-size="26.4" text-anchor="middle" fill="#000">0</text>
<text x="1509" y="114.4" font-size="26.4" text-anchor="middle" fill="#000">1</text>
<text x="1444.4" y="20.9" font-size="29.1" text-anchor="middle" fill="#000" style="font-family:&quot;Liberation Serif&quot;,serif">Relative expression</text>
<defs>
<filter id="bl1" x="-50%" y="-50%" width="200%" height="200%" color-interpolation-filters="sRGB"><feGaussianBlur stdDeviation="1.9"/></filter>
<filter id="bl3" x="-50%" y="-50%" width="200%" height="200%" color-interpolation-filters="sRGB"><feGaussianBlur stdDeviation="2.2"/></filter>
<filter id="bl5" x="-50%" y="-50%" width="200%" height="200%" color-interpolation-filters="sRGB"><feGaussianBlur stdDeviation="4"/></filter>
<filter id="bl8" x="-50%" y="-50%" width="200%" height="200%" color-interpolation-filters="sRGB"><feGaussianBlur stdDeviation="7"/></filter>
<linearGradient id="g1" x1="0" y1="0" x2="0" y2="1">
<stop offset="0" stop-color="#79808b"/><stop offset="0.32" stop-color="#8d949e"/><stop offset="0.55" stop-color="#c2c7cf"/><stop offset="1" stop-color="#d6dbe3"/></linearGradient>
<linearGradient id="g2" x1="0" y1="0" x2="0" y2="1">
<stop offset="0" stop-color="#6a727e"/><stop offset="0.35" stop-color="#8a929d"/><stop offset="0.65" stop-color="#b9c0ca"/><stop offset="1" stop-color="#d3d9e2"/></linearGradient>
<linearGradient id="g3" x1="0" y1="0" x2="0" y2="1">
<stop offset="0" stop-color="#b2bac4"/><stop offset="0.4" stop-color="#a9b2bc"/><stop offset="1" stop-color="#c3cbd5"/></linearGradient>
<linearGradient id="gr" x1="0" y1="0" x2="1" y2="0">
<stop offset="0" stop-color="#ffffff" stop-opacity="0"/><stop offset="1" stop-color="#e8eef6" stop-opacity="0.85"/></linearGradient>
<clipPath id="c1"><rect x="169" y="1492.5" width="196" height="89"/></clipPath>
<clipPath id="c2"><rect x="169" y="1595" width="196" height="89"/></clipPath>
<clipPath id="c3"><rect x="169" y="1697.5" width="196" height="89"/></clipPath>
</defs>
<g clip-path="url(#c1)">
<rect x="169" y="1492.5" width="196" height="89" fill="url(#g1)"/>
<rect x="180" y="1488" width="86" height="32" fill="#454d57" opacity="0.7" filter="url(#bl8)"/>
<rect x="265" y="1490" width="13" height="40" fill="#b8bec7" opacity="0.7" filter="url(#bl3)"/>
<rect x="335" y="1490" width="35" height="40" fill="#b9bfc8" opacity="0.6" filter="url(#bl8)"/>
<rect x="180" y="1514" width="86" height="16" rx="8" fill="#3a414b" opacity="0.6" filter="url(#bl5)"/>
<rect x="281" y="1520" width="76" height="13" rx="6" fill="#4a525c" opacity="0.55" filter="url(#bl5)"/>
<path d="M183,1527 Q183,1522.5 194,1522.5 L252,1522.5 Q263,1522.5 263,1530 Q263,1542 232,1543 L208,1543 Q183,1541.5 183,1527 Z" fill="#04060a" filter="url(#bl1)"/>
<rect x="283" y="1527.5" width="70" height="11" rx="5.5" fill="#04060a" filter="url(#bl1)"/>
</g>
<g clip-path="url(#c2)">
<rect x="169" y="1595" width="196" height="89" fill="url(#g2)"/>
<rect x="178" y="1592" width="90" height="35" fill="#4c5561" opacity="0.55" filter="url(#bl8)"/>
<rect x="263" y="1595" width="14" height="92" fill="#b6bdc7" opacity="0.5" filter="url(#bl3)"/>
<rect x="320" y="1595" width="50" height="92" fill="#cdd4de" opacity="0.6" filter="url(#bl8)"/>
<ellipse cx="217" cy="1637" rx="36" ry="13" fill="#2a313b" opacity="0.6" filter="url(#bl5)"/>
<ellipse cx="199.5" cy="1635.5" rx="14.5" ry="10" fill="#04070b" filter="url(#bl1)"/>
<rect x="208" y="1631" width="18" height="10" fill="#0a0e14" filter="url(#bl3)"/>
<ellipse cx="234.5" cy="1637" rx="15" ry="8.5" fill="#04070b" filter="url(#bl1)"/>
<ellipse cx="222.8" cy="1655" rx="6" ry="7" fill="#04070b" filter="url(#bl1)"/>
<ellipse cx="296" cy="1639" rx="8" ry="8" fill="#262c36" filter="url(#bl3)"/>
<ellipse cx="328" cy="1640" rx="24" ry="5" fill="#8e959f" opacity="0.6" filter="url(#bl3)"/>
</g>
<g clip-path="url(#c3)">
<rect x="169" y="1697.5" width="196" height="89" fill="url(#g3)"/>
<rect x="300" y="1697.5" width="65" height="89" fill="url(#gr)"/>
<rect x="257" y="1697" width="8" height="92" fill="#c8cfd9" opacity="0.7" filter="url(#bl3)"/>
<rect x="174" y="1734" width="172" height="10" rx="5" fill="#3d4650" opacity="0.6" filter="url(#bl3)"/>
<path d="M173,1752 Q173,1739.5 190,1739.5 L245,1739.5 Q257,1739.5 257,1751 Q257,1765.5 232,1766.5 L198,1766.5 Q173,1765 173,1752 Z" fill="#04060a" filter="url(#bl1)"/>
<path d="M263,1751 Q263,1739 280,1739 L335,1739 Q348.5,1739 348.5,1751 Q348.5,1765 322,1766 L288,1766 Q263,1764.5 263,1751 Z" fill="#04060a" filter="url(#bl1)"/>
</g>
<rect x="169.15" y="1492.55" width="195.5" height="88.7" rx="1" fill="none" stroke="#000" stroke-width="3.3"/>
<rect x="169.15" y="1594.95" width="195.5" height="88.8" rx="1" fill="none" stroke="#000" stroke-width="3.3"/>
<rect x="169.15" y="1697.55" width="195.5" height="88.7" rx="1" fill="none" stroke="#000" stroke-width="3.3"/>
<text x="43" y="1545.7" font-size="31.7" text-anchor="start" fill="#000">NR1H3</text>
<text x="43" y="1650" font-size="31.8" text-anchor="start" fill="#000">FABP4</text>
<text x="43" y="1749" font-size="31.1" text-anchor="start" fill="#000">β-actin</text>
<text transform="translate(229,1475) rotate(-90)" font-size="30.5" text-anchor="start" fill="#000">NC</text>
<text transform="translate(327,1476.5) rotate(-90)" font-size="31.3" text-anchor="start" fill="#000">siNR1H3#1</text>
<line x1="210.5" y1="2010.7" x2="210.5" y2="2429.7" stroke="#000" stroke-width="2.8" stroke-linecap="butt"/>
<line x1="195.8" y1="2428.3" x2="834" y2="2428.3" stroke="#000" stroke-width="2.8" stroke-linecap="butt"/>
<line x1="195.8" y1="2428.4" x2="210.5" y2="2428.4" stroke="#000" stroke-width="2.8" stroke-linecap="butt"/>
<text x="187.8" y="2438.9" font-size="24.5" text-anchor="end" fill="#000">0</text>
<line x1="195.8" y1="2323.4" x2="210.5" y2="2323.4" stroke="#000" stroke-width="2.8" stroke-linecap="butt"/>
<text x="187.8" y="2333.9" font-size="24.5" text-anchor="end" fill="#000">1</text>
<line x1="195.8" y1="2219.2" x2="210.5" y2="2219.2" stroke="#000" stroke-width="2.8" stroke-linecap="butt"/>
<text x="187.8" y="2229.7" font-size="24.5" text-anchor="end" fill="#000">2</text>
<line x1="195.8" y1="2114.9" x2="210.5" y2="2114.9" stroke="#000" stroke-width="2.8" stroke-linecap="butt"/>
<text x="187.8" y="2125.4" font-size="24.5" text-anchor="end" fill="#000">3</text>
<line x1="195.8" y1="2010.7" x2="210.5" y2="2010.7" stroke="#000" stroke-width="2.8" stroke-linecap="butt"/>
<text x="187.8" y="2021.2" font-size="24.5" text-anchor="end" fill="#000">4</text>
<line x1="305.1" y1="2428.3" x2="305.1" y2="2442.3" stroke="#000" stroke-width="2.8" stroke-linecap="butt"/>
<line x1="449.5" y1="2428.3" x2="449.5" y2="2442.3" stroke="#000" stroke-width="2.8" stroke-linecap="butt"/>
<line x1="593.9" y1="2428.3" x2="593.9" y2="2442.3" stroke="#000" stroke-width="2.8" stroke-linecap="butt"/>
<line x1="738.2" y1="2428.3" x2="738.2" y2="2442.3" stroke="#000" stroke-width="2.8" stroke-linecap="butt"/>
<text x="305.1" y="2475.4" font-size="25" text-anchor="middle" fill="#000">0</text>
<text x="449.5" y="2475.4" font-size="25" text-anchor="middle" fill="#000">24</text>
<text x="593.9" y="2475.4" font-size="25" text-anchor="middle" fill="#000">48</text>
<text x="724.2" y="2475.4" font-size="25" text-anchor="start" fill="#000">72(h)</text>
<polyline points="305.1,2389 449.5,2286.8 593.9,2226.2 738.2,2117.7" fill="none" stroke="#868686" stroke-width="4" stroke-linejoin="round"/>
<line x1="449.5" y1="2274.3" x2="449.5" y2="2299.3" stroke="#868686" stroke-width="3.4" stroke-linecap="butt"/>
<line x1="443.9" y1="2274.3" x2="455.1" y2="2274.3" stroke="#868686" stroke-width="3.6" stroke-linecap="round"/>
<line x1="443.9" y1="2299.3" x2="455.1" y2="2299.3" stroke="#868686" stroke-width="3.6" stroke-linecap="round"/>
<line x1="593.9" y1="2214.4" x2="593.9" y2="2238" stroke="#868686" stroke-width="3.4" stroke-linecap="butt"/>
<line x1="588.3" y1="2214.4" x2="599.5" y2="2214.4" stroke="#868686" stroke-width="3.6" stroke-linecap="round"/>
<line x1="588.3" y1="2238" x2="599.5" y2="2238" stroke="#868686" stroke-width="3.6" stroke-linecap="round"/>
<line x1="738.2" y1="2106.4" x2="738.2" y2="2129" stroke="#868686" stroke-width="3.4" stroke-linecap="butt"/>
<line x1="732.6" y1="2106.4" x2="743.8" y2="2106.4" stroke="#868686" stroke-width="3.6" stroke-linecap="round"/>
<line x1="732.6" y1="2129" x2="743.8" y2="2129" stroke="#868686" stroke-width="3.6" stroke-linecap="round"/>
<circle cx="305.1" cy="2389" r="8.2" fill="#868686"/>
<circle cx="449.5" cy="2286.8" r="8.2" fill="#868686"/>
<circle cx="593.9" cy="2226.2" r="8.2" fill="#868686"/>
<circle cx="738.2" cy="2117.7" r="8.2" fill="#868686"/>
<polyline points="305.1,2392.8 449.5,2329.8 593.9,2274.5 738.2,2210.7" fill="none" stroke="#EFC000" stroke-width="4" stroke-linejoin="round"/>
<line x1="449.5" y1="2325.8" x2="449.5" y2="2333.8" stroke="#EFC000" stroke-width="3.4" stroke-linecap="butt"/>
<line x1="443.9" y1="2325.8" x2="455.1" y2="2325.8" stroke="#EFC000" stroke-width="3.6" stroke-linecap="round"/>
<line x1="443.9" y1="2333.8" x2="455.1" y2="2333.8" stroke="#EFC000" stroke-width="3.6" stroke-linecap="round"/>
<line x1="593.9" y1="2263.5" x2="593.9" y2="2285.5" stroke="#EFC000" stroke-width="3.4" stroke-linecap="butt"/>
<line x1="588.3" y1="2263.5" x2="599.5" y2="2263.5" stroke="#EFC000" stroke-width="3.6" stroke-linecap="round"/>
<line x1="588.3" y1="2285.5" x2="599.5" y2="2285.5" stroke="#EFC000" stroke-width="3.6" stroke-linecap="round"/>
<line x1="738.2" y1="2193.2" x2="738.2" y2="2228.2" stroke="#EFC000" stroke-width="3.4" stroke-linecap="butt"/>
<line x1="732.6" y1="2193.2" x2="743.8" y2="2193.2" stroke="#EFC000" stroke-width="3.6" stroke-linecap="round"/>
<line x1="732.6" y1="2228.2" x2="743.8" y2="2228.2" stroke="#EFC000" stroke-width="3.6" stroke-linecap="round"/>
<rect x="296.5" y="2384.2" width="17.2" height="17.2" fill="#EFC000"/>
<rect x="440.9" y="2321.2" width="17.2" height="17.2" fill="#EFC000"/>
<rect x="585.3" y="2265.9" width="17.2" height="17.2" fill="#EFC000"/>
<rect x="729.6" y="2202.1" width="17.2" height="17.2" fill="#EFC000"/>
<polyline points="305.1,2389 449.5,2345.3 593.9,2308.5 738.2,2265.2" fill="none" stroke="#0073C2" stroke-width="4" stroke-linejoin="round"/>
<line x1="449.5" y1="2336.9" x2="449.5" y2="2353.7" stroke="#0073C2" stroke-width="3.4" stroke-linecap="butt"/>
<line x1="443.9" y1="2336.9" x2="455.1" y2="2336.9" stroke="#0073C2" stroke-width="3.6" stroke-linecap="round"/>
<line x1="443.9" y1="2353.7" x2="455.1" y2="2353.7" stroke="#0073C2" stroke-width="3.6" stroke-linecap="round"/>
<line x1="593.9" y1="2294.5" x2="593.9" y2="2322.5" stroke="#0073C2" stroke-width="3.4" stroke-linecap="butt"/>
<line x1="588.3" y1="2294.5" x2="599.5" y2="2294.5" stroke="#0073C2" stroke-width="3.6" stroke-linecap="round"/>
<line x1="588.3" y1="2322.5" x2="599.5" y2="2322.5" stroke="#0073C2" stroke-width="3.6" stroke-linecap="round"/>
<line x1="738.2" y1="2247.7" x2="738.2" y2="2282.7" stroke="#0073C2" stroke-width="3.4" stroke-linecap="butt"/>
<line x1="732.6" y1="2247.7" x2="743.8" y2="2247.7" stroke="#0073C2" stroke-width="3.6" stroke-linecap="round"/>
<line x1="732.6" y1="2282.7" x2="743.8" y2="2282.7" stroke="#0073C2" stroke-width="3.6" stroke-linecap="round"/>
<path d="M305.1,2380.6L313.8,2397.4L296.4,2397.4Z" fill="#0073C2"/>
<path d="M449.5,2336.9L458.2,2353.7L440.8,2353.7Z" fill="#0073C2"/>
<path d="M593.9,2300.1L602.6,2316.9L585.2,2316.9Z" fill="#0073C2"/>
<path d="M738.2,2256.8L746.9,2273.6L729.5,2273.6Z" fill="#0073C2"/>
<polyline points="305.1,2391.5 449.5,2364.1 593.9,2320.8 738.2,2276.5" fill="none" stroke="#CD534C" stroke-width="4" stroke-linejoin="round"/>
<line x1="449.5" y1="2356.1" x2="449.5" y2="2372.1" stroke="#CD534C" stroke-width="3.4" stroke-linecap="butt"/>
<line x1="443.9" y1="2356.1" x2="455.1" y2="2356.1" stroke="#CD534C" stroke-width="3.6" stroke-linecap="round"/>
<line x1="443.9" y1="2372.1" x2="455.1" y2="2372.1" stroke="#CD534C" stroke-width="3.6" stroke-linecap="round"/>
<line x1="593.9" y1="2303.1" x2="593.9" y2="2338.5" stroke="#CD534C" stroke-width="3.4" stroke-linecap="butt"/>
<line x1="588.3" y1="2303.1" x2="599.5" y2="2303.1" stroke="#CD534C" stroke-width="3.6" stroke-linecap="round"/>
<line x1="588.3" y1="2338.5" x2="599.5" y2="2338.5" stroke="#CD534C" stroke-width="3.6" stroke-linecap="round"/>
<line x1="738.2" y1="2268.5" x2="738.2" y2="2284.5" stroke="#CD534C" stroke-width="3.4" stroke-linecap="butt"/>
<line x1="732.6" y1="2268.5" x2="743.8" y2="2268.5" stroke="#CD534C" stroke-width="3.6" stroke-linecap="round"/>
<line x1="732.6" y1="2284.5" x2="743.8" y2="2284.5" stroke="#CD534C" stroke-width="3.6" stroke-linecap="round"/>
<path d="M305.1,2399.9L313.8,2383.1L296.4,2383.1Z" fill="#CD534C"/>
<path d="M449.5,2372.5L458.2,2355.7L440.8,2355.7Z" fill="#CD534C"/>
<path d="M593.9,2329.2L602.6,2312.4L585.2,2312.4Z" fill="#CD534C"/>
<path d="M738.2,2284.9L746.9,2268.1L729.5,2268.1Z" fill="#CD534C"/>
<line x1="257" y1="2015.3" x2="301.8" y2="2015.3" stroke="#868686" stroke-width="4" stroke-linecap="round"/>
<circle cx="279.4" cy="2015.3" r="8.2" fill="#868686"/>
<text x="327" y="2022.8" font-size="25" text-anchor="start" fill="#000">control</text>
<line x1="257" y1="2073.7" x2="301.8" y2="2073.7" stroke="#EFC000" stroke-width="4" stroke-linecap="round"/>
<rect x="270.8" y="2065.1" width="17.2" height="17.2" fill="#EFC000"/>
<text x="327" y="2081.2" font-size="25" text-anchor="start" fill="#000">MC(NC)</text>
<line x1="257" y1="2131.7" x2="301.8" y2="2131.7" stroke="#0073C2" stroke-width="4" stroke-linecap="round"/>
<path d="M279.4,2123.3L288.1,2140.1L270.7,2140.1Z" fill="#0073C2"/>
<text x="327" y="2139.2" font-size="25" text-anchor="start" fill="#000">MC(siNR1H3#1)</text>
<line x1="257" y1="2189.4" x2="301.8" y2="2189.4" stroke="#CD534C" stroke-width="4" stroke-linecap="round"/>
<path d="M279.4,2197.8L288.1,2181L270.7,2181Z" fill="#CD534C"/>
<text x="327" y="2196.9" font-size="25" text-anchor="start" fill="#000">MC(siNR1H3#2)</text>
<line x1="760.6" y1="2117" x2="760.6" y2="2202.3" stroke="#000" stroke-width="2.6" stroke-linecap="round"/>
<line x1="760.6" y1="2215.1" x2="760.6" y2="2275.1" stroke="#000" stroke-width="2.6" stroke-linecap="round"/>
<line x1="794.4" y1="2215.8" x2="794.4" y2="2260.2" stroke="#000" stroke-width="2.6" stroke-linecap="round"/>
<text transform="translate(781,2156.7) rotate(90)" x="0" y="20.09" font-size="39" text-anchor="middle" stroke="#000" stroke-width="0.7" stroke-linejoin="round">*</text>
<text transform="translate(781,2173.8) rotate(90)" x="0" y="20.09" font-size="39" text-anchor="middle" stroke="#000" stroke-width="0.7" stroke-linejoin="round">*</text>
<text transform="translate(780.9,2236.4) rotate(90)" x="0" y="20.09" font-size="39" text-anchor="middle" stroke="#000" stroke-width="0.7" stroke-linejoin="round">*</text>
<text transform="translate(780.9,2253.5) rotate(90)" x="0" y="20.09" font-size="39" text-anchor="middle" stroke="#000" stroke-width="0.7" stroke-linejoin="round">*</text>
<text transform="translate(819.9,2236.4) rotate(90)" x="0" y="20.09" font-size="39" text-anchor="middle" stroke="#000" stroke-width="0.7" stroke-linejoin="round">*</text>
<text x="511" y="1958" font-size="31.7" text-anchor="middle" fill="#000">MCF7</text>
<text transform="translate(155,2194.8) rotate(-90)" font-size="25" text-anchor="middle" fill="#000">Cell viability (OD 450nm)</text>
<line x1="1141.7" y1="2008.6" x2="1141.7" y2="2425.2" stroke="#000" stroke-width="2.8" stroke-linecap="butt"/>
<line x1="1127.6" y1="2423.8" x2="1765.3" y2="2423.8" stroke="#000" stroke-width="2.8" stroke-linecap="butt"/>
<line x1="1127.6" y1="2423.8" x2="1141.7" y2="2423.8" stroke="#000" stroke-width="2.8" stroke-linecap="butt"/>
<text x="1115.5" y="2431.3" font-size="25" text-anchor="end" fill="#000">0.0</text>
<line x1="1127.6" y1="2341.6" x2="1141.7" y2="2341.6" stroke="#000" stroke-width="2.8" stroke-linecap="butt"/>
<text x="1115.5" y="2349.1" font-size="25" text-anchor="end" fill="#000">0.5</text>
<line x1="1127.6" y1="2258.4" x2="1141.7" y2="2258.4" stroke="#000" stroke-width="2.8" stroke-linecap="butt"/>
<text x="1115.5" y="2265.9" font-size="25" text-anchor="end" fill="#000">1.0</text>
<line x1="1127.6" y1="2175.1" x2="1141.7" y2="2175.1" stroke="#000" stroke-width="2.8" stroke-linecap="butt"/>
<text x="1115.5" y="2182.6" font-size="25" text-anchor="end" fill="#000">1.5</text>
<line x1="1127.6" y1="2091.9" x2="1141.7" y2="2091.9" stroke="#000" stroke-width="2.8" stroke-linecap="butt"/>
<text x="1115.5" y="2099.4" font-size="25" text-anchor="end" fill="#000">2.0</text>
<line x1="1127.6" y1="2008.6" x2="1141.7" y2="2008.6" stroke="#000" stroke-width="2.8" stroke-linecap="butt"/>
<text x="1115.5" y="2016.1" font-size="25" text-anchor="end" fill="#000">2.5</text>
<line x1="1237.5" y1="2423.8" x2="1237.5" y2="2437.8" stroke="#000" stroke-width="2.8" stroke-linecap="butt"/>
<line x1="1381.5" y1="2423.8" x2="1381.5" y2="2437.8" stroke="#000" stroke-width="2.8" stroke-linecap="butt"/>
<line x1="1525.5" y1="2423.8" x2="1525.5" y2="2437.8" stroke="#000" stroke-width="2.8" stroke-linecap="butt"/>
<line x1="1669.5" y1="2423.8" x2="1669.5" y2="2437.8" stroke="#000" stroke-width="2.8" stroke-linecap="butt"/>
<text x="1237.5" y="2473.6" font-size="25" text-anchor="middle" fill="#000">0</text>
<text x="1381.5" y="2473.6" font-size="25" text-anchor="middle" fill="#000">24</text>
<text x="1525.5" y="2473.6" font-size="25" text-anchor="middle" fill="#000">48</text>
<text x="1655.5" y="2473.6" font-size="25" text-anchor="start" fill="#000">72(h)</text>
<polyline points="1237.5,2366.2 1381.5,2306 1525.5,2172.5 1669.5,2058.9" fill="none" stroke="#868686" stroke-width="4" stroke-linejoin="round"/>
<line x1="1381.5" y1="2286" x2="1381.5" y2="2326" stroke="#868686" stroke-width="3.4" stroke-linecap="butt"/>
<line x1="1375.9" y1="2286" x2="1387.1" y2="2286" stroke="#868686" stroke-width="3.6" stroke-linecap="round"/>
<line x1="1375.9" y1="2326" x2="1387.1" y2="2326" stroke="#868686" stroke-width="3.6" stroke-linecap="round"/>
<line x1="1525.5" y1="2150" x2="1525.5" y2="2195" stroke="#868686" stroke-width="3.4" stroke-linecap="butt"/>
<line x1="1519.9" y1="2150" x2="1531.1" y2="2150" stroke="#868686" stroke-width="3.6" stroke-linecap="round"/>
<line x1="1519.9" y1="2195" x2="1531.1" y2="2195" stroke="#868686" stroke-width="3.6" stroke-linecap="round"/>
<line x1="1669.5" y1="2040.4" x2="1669.5" y2="2077.4" stroke="#868686" stroke-width="3.4" stroke-linecap="butt"/>
<line x1="1663.9" y1="2040.4" x2="1675.1" y2="2040.4" stroke="#868686" stroke-width="3.6" stroke-linecap="round"/>
<line x1="1663.9" y1="2077.4" x2="1675.1" y2="2077.4" stroke="#868686" stroke-width="3.6" stroke-linecap="round"/>
<circle cx="1237.5" cy="2366.2" r="8.2" fill="#868686"/>
<circle cx="1381.5" cy="2306" r="8.2" fill="#868686"/>
<circle cx="1525.5" cy="2172.5" r="8.2" fill="#868686"/>
<circle cx="1669.5" cy="2058.9" r="8.2" fill="#868686"/>
<polyline points="1237.5,2385.6 1381.5,2311.3 1525.5,2282.5 1669.5,2196" fill="none" stroke="#EFC000" stroke-width="4" stroke-linejoin="round"/>
<line x1="1381.5" y1="2306.3" x2="1381.5" y2="2316.3" stroke="#EFC000" stroke-width="3.4" stroke-linecap="butt"/>
<line x1="1375.9" y1="2306.3" x2="1387.1" y2="2306.3" stroke="#EFC000" stroke-width="3.6" stroke-linecap="round"/>
<line x1="1375.9" y1="2316.3" x2="1387.1" y2="2316.3" stroke="#EFC000" stroke-width="3.6" stroke-linecap="round"/>
<line x1="1525.5" y1="2277.5" x2="1525.5" y2="2287.5" stroke="#EFC000" stroke-width="3.4" stroke-linecap="butt"/>
<line x1="1519.9" y1="2277.5" x2="1531.1" y2="2277.5" stroke="#EFC000" stroke-width="3.6" stroke-linecap="round"/>
<line x1="1519.9" y1="2287.5" x2="1531.1" y2="2287.5" stroke="#EFC000" stroke-width="3.6" stroke-linecap="round"/>
<line x1="1669.5" y1="2181.4" x2="1669.5" y2="2210.6" stroke="#EFC000" stroke-width="3.4" stroke-linecap="butt"/>
<line x1="1663.9" y1="2181.4" x2="1675.1" y2="2181.4" stroke="#EFC000" stroke-width="3.6" stroke-linecap="round"/>
<line x1="1663.9" y1="2210.6" x2="1675.1" y2="2210.6" stroke="#EFC000" stroke-width="3.6" stroke-linecap="round"/>
<rect x="1228.9" y="2377" width="17.2" height="17.2" fill="#EFC000"/>
<rect x="1372.9" y="2302.7" width="17.2" height="17.2" fill="#EFC000"/>
<rect x="1516.9" y="2273.9" width="17.2" height="17.2" fill="#EFC000"/>
<rect x="1660.9" y="2187.4" width="17.2" height="17.2" fill="#EFC000"/>
<polyline points="1237.5,2371.5 1381.5,2331.2 1525.5,2313.9 1669.5,2265.2" fill="none" stroke="#0073C2" stroke-width="4" stroke-linejoin="round"/>
<line x1="1381.5" y1="2321.2" x2="1381.5" y2="2341.2" stroke="#0073C2" stroke-width="3.4" stroke-linecap="butt"/>
<line x1="1375.9" y1="2321.2" x2="1387.1" y2="2321.2" stroke="#0073C2" stroke-width="3.6" stroke-linecap="round"/>
<line x1="1375.9" y1="2341.2" x2="1387.1" y2="2341.2" stroke="#0073C2" stroke-width="3.6" stroke-linecap="round"/>
<line x1="1525.5" y1="2304.4" x2="1525.5" y2="2323.4" stroke="#0073C2" stroke-width="3.4" stroke-linecap="butt"/>
<line x1="1519.9" y1="2304.4" x2="1531.1" y2="2304.4" stroke="#0073C2" stroke-width="3.6" stroke-linecap="round"/>
<line x1="1519.9" y1="2323.4" x2="1531.1" y2="2323.4" stroke="#0073C2" stroke-width="3.6" stroke-linecap="round"/>
<line x1="1669.5" y1="2245.2" x2="1669.5" y2="2285.2" stroke="#0073C2" stroke-width="3.4" stroke-linecap="butt"/>
<line x1="1663.9" y1="2245.2" x2="1675.1" y2="2245.2" stroke="#0073C2" stroke-width="3.6" stroke-linecap="round"/>
<line x1="1663.9" y1="2285.2" x2="1675.1" y2="2285.2" stroke="#0073C2" stroke-width="3.6" stroke-linecap="round"/>
<path d="M1237.5,2363.1L1246.2,2379.9L1228.8,2379.9Z" fill="#0073C2"/>
<path d="M1381.5,2322.8L1390.2,2339.6L1372.8,2339.6Z" fill="#0073C2"/>
<path d="M1525.5,2305.5L1534.2,2322.3L1516.8,2322.3Z" fill="#0073C2"/>
<path d="M1669.5,2256.8L1678.2,2273.6L1660.8,2273.6Z" fill="#0073C2"/>
<polyline points="1237.5,2374.1 1381.5,2334.8 1525.5,2300.8 1669.5,2256.3" fill="none" stroke="#CD534C" stroke-width="4" stroke-linejoin="round"/>
<line x1="1381.5" y1="2327.3" x2="1381.5" y2="2342.3" stroke="#CD534C" stroke-width="3.4" stroke-linecap="butt"/>
<line x1="1375.9" y1="2327.3" x2="1387.1" y2="2327.3" stroke="#CD534C" stroke-width="3.6" stroke-linecap="round"/>
<line x1="1375.9" y1="2342.3" x2="1387.1" y2="2342.3" stroke="#CD534C" stroke-width="3.6" stroke-linecap="round"/>
<line x1="1525.5" y1="2288.8" x2="1525.5" y2="2312.8" stroke="#CD534C" stroke-width="3.4" stroke-linecap="butt"/>
<line x1="1519.9" y1="2288.8" x2="1531.1" y2="2288.8" stroke="#CD534C" stroke-width="3.6" stroke-linecap="round"/>
<line x1="1519.9" y1="2312.8" x2="1531.1" y2="2312.8" stroke="#CD534C" stroke-width="3.6" stroke-linecap="round"/>
<line x1="1669.5" y1="2231.3" x2="1669.5" y2="2281.3" stroke="#CD534C" stroke-width="3.4" stroke-linecap="butt"/>
<line x1="1663.9" y1="2231.3" x2="1675.1" y2="2231.3" stroke="#CD534C" stroke-width="3.6" stroke-linecap="round"/>
<line x1="1663.9" y1="2281.3" x2="1675.1" y2="2281.3" stroke="#CD534C" stroke-width="3.6" stroke-linecap="round"/>
<path d="M1237.5,2382.5L1246.2,2365.7L1228.8,2365.7Z" fill="#CD534C"/>
<path d="M1381.5,2343.2L1390.2,2326.4L1372.8,2326.4Z" fill="#CD534C"/>
<path d="M1525.5,2309.2L1534.2,2292.4L1516.8,2292.4Z" fill="#CD534C"/>
<path d="M1669.5,2264.7L1678.2,2247.9L1660.8,2247.9Z" fill="#CD534C"/>
<line x1="1192.4" y1="2008.6" x2="1235.5" y2="2008.6" stroke="#868686" stroke-width="4" stroke-linecap="round"/>
<circle cx="1213.95" cy="2008.6" r="8.2" fill="#868686"/>
<text x="1261" y="2016.1" font-size="25" text-anchor="start" fill="#000">control</text>
<line x1="1192.4" y1="2067.8" x2="1235.5" y2="2067.8" stroke="#EFC000" stroke-width="4" stroke-linecap="round"/>
<rect x="1205.35" y="2059.2" width="17.2" height="17.2" fill="#EFC000"/>
<text x="1261" y="2075.3" font-size="25" text-anchor="start" fill="#000">MC(NC)</text>
<line x1="1192.4" y1="2126.4" x2="1235.5" y2="2126.4" stroke="#0073C2" stroke-width="4" stroke-linecap="round"/>
<path d="M1213.95,2118L1222.65,2134.8L1205.25,2134.8Z" fill="#0073C2"/>
<text x="1261" y="2133.9" font-size="25" text-anchor="start" fill="#000">MC(siNR1H3#1)</text>
<line x1="1192.4" y1="2184" x2="1235.5" y2="2184" stroke="#CD534C" stroke-width="4" stroke-linecap="round"/>
<path d="M1213.95,2192.4L1222.65,2175.6L1205.25,2175.6Z" fill="#CD534C"/>
<text x="1261" y="2191.5" font-size="25" text-anchor="start" fill="#000">MC(siNR1H3#2)</text>
<line x1="1692.1" y1="2079.1" x2="1692.1" y2="2163.4" stroke="#000" stroke-width="2.6" stroke-linecap="round"/>
<line x1="1692.1" y1="2199.2" x2="1692.1" y2="2258.2" stroke="#000" stroke-width="2.6" stroke-linecap="round"/>
<line x1="1725.5" y1="2199.6" x2="1725.5" y2="2243.3" stroke="#000" stroke-width="2.6" stroke-linecap="round"/>
<text transform="translate(1713,2106.5) rotate(90)" x="0" y="20.09" font-size="39" text-anchor="middle" stroke="#000" stroke-width="0.7" stroke-linejoin="round">*</text>
<text transform="translate(1713,2123.5) rotate(90)" x="0" y="20.09" font-size="39" text-anchor="middle" stroke="#000" stroke-width="0.7" stroke-linejoin="round">*</text>
<text transform="translate(1713,2140.7) rotate(90)" x="0" y="20.09" font-size="39" text-anchor="middle" stroke="#000" stroke-width="0.7" stroke-linejoin="round">*</text>
<text transform="translate(1713,2220.3) rotate(90)" x="0" y="20.09" font-size="39" text-anchor="middle" stroke="#000" stroke-width="0.7" stroke-linejoin="round">*</text>
<text transform="translate(1713,2237.6) rotate(90)" x="0" y="20.09" font-size="39" text-anchor="middle" stroke="#000" stroke-width="0.7" stroke-linejoin="round">*</text>
<text transform="translate(1752.2,2220.3) rotate(90)" x="0" y="20.09" font-size="39" text-anchor="middle" stroke="#000" stroke-width="0.7" stroke-linejoin="round">*</text>
<text x="1460" y="1956.2" font-size="30.5" text-anchor="middle" fill="#000">ZR-751</text>
<text transform="translate(1058,2193.5) rotate(-90)" font-size="25" text-anchor="middle" fill="#000">Cell viability (OD 450nm)</text>
<text x="7.7" y="46.4" font-size="64" text-anchor="start" fill="#000">a</text>
<text x="474.9" y="46" font-size="65" text-anchor="start" fill="#000">b</text>
<text x="1007.5" y="46" font-size="73" text-anchor="start" fill="#000">c</text>
<text x="-2" y="694" font-size="63.5" text-anchor="start" fill="#000">d</text>
<text x="498.4" y="694.3" font-size="64.5" text-anchor="start" fill="#000">e</text>
<text x="68.2" y="1354" font-size="64" text-anchor="start" fill="#000">f</text>
<text x="453.5" y="1354.2" font-size="65" text-anchor="start" fill="#000">g</text>
<text x="1118.8" y="1418.8" font-size="63.5" text-anchor="start" fill="#000">h</text>
<text x="74.2" y="1996.8" font-size="63.2" text-anchor="start" fill="#000">i</text>
<text x="982" y="1997.5" font-size="64" text-anchor="start" fill="#000">j</text>
</svg></body></html>
